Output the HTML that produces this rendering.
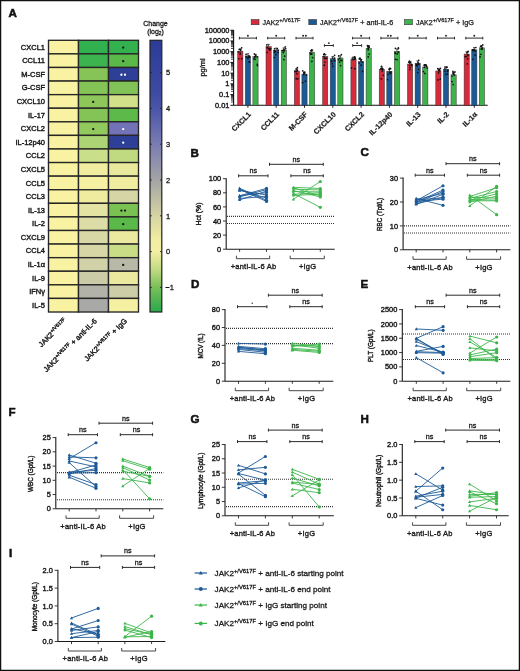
<!DOCTYPE html>
<html><head><meta charset="utf-8"><style>
html,body{margin:0;padding:0;background:#fff;width:520px;height:671px;overflow:hidden}
svg{display:block;will-change:transform}
text{font-family:"Liberation Sans",sans-serif}
</style></head><body>
<svg width="520" height="671" viewBox="0 0 520 671">
<rect x="0.6" y="0.6" width="518.8" height="669.8" fill="#fff" stroke="#111" stroke-width="1.3"/>
<text x="8.40" y="17.40" font-size="11.6" text-anchor="start" font-weight="bold" fill="#111" stroke="#111" stroke-width="0.55">A</text>
<text x="190.60" y="156.60" font-size="11.6" text-anchor="start" font-weight="bold" fill="#111" stroke="#111" stroke-width="0.55">B</text>
<text x="360.60" y="155.90" font-size="11.6" text-anchor="start" font-weight="bold" fill="#111" stroke="#111" stroke-width="0.55">C</text>
<text x="191.00" y="288.30" font-size="11.6" text-anchor="start" font-weight="bold" fill="#111" stroke="#111" stroke-width="0.55">D</text>
<text x="360.60" y="288.30" font-size="11.6" text-anchor="start" font-weight="bold" fill="#111" stroke="#111" stroke-width="0.55">E</text>
<text x="8.50" y="415.80" font-size="11.6" text-anchor="start" font-weight="bold" fill="#111" stroke="#111" stroke-width="0.55">F</text>
<text x="190.60" y="423.30" font-size="11.6" text-anchor="start" font-weight="bold" fill="#111" stroke="#111" stroke-width="0.55">G</text>
<text x="360.60" y="423.30" font-size="11.6" text-anchor="start" font-weight="bold" fill="#111" stroke="#111" stroke-width="0.55">H</text>
<text x="9.10" y="556.60" font-size="11.6" text-anchor="start" font-weight="bold" fill="#111" stroke="#111" stroke-width="0.55">I</text>
<rect x="48.50" y="40.30" width="30" height="13.585" fill="#f8f2a2" stroke="#262626" stroke-width="1.35"/>
<rect x="78.50" y="40.30" width="30" height="13.585" fill="#30b04f" stroke="#262626" stroke-width="1.35"/>
<rect x="108.50" y="40.30" width="30" height="13.585" fill="#34b14f" stroke="#262626" stroke-width="1.35"/>
<text x="45.00" y="49.69" font-size="7.5" text-anchor="end" font-weight="normal" fill="#1a1a1a" stroke="#1a1a1a" stroke-width="0.42">CXCL1</text>
<rect x="48.50" y="53.88" width="30" height="13.585" fill="#f8f2a2" stroke="#262626" stroke-width="1.35"/>
<rect x="78.50" y="53.88" width="30" height="13.585" fill="#3cb34e" stroke="#262626" stroke-width="1.35"/>
<rect x="108.50" y="53.88" width="30" height="13.585" fill="#5bb94a" stroke="#262626" stroke-width="1.35"/>
<text x="45.00" y="63.28" font-size="7.5" text-anchor="end" font-weight="normal" fill="#1a1a1a" stroke="#1a1a1a" stroke-width="0.42">CCL11</text>
<rect x="48.50" y="67.47" width="30" height="13.585" fill="#f8f2a2" stroke="#262626" stroke-width="1.35"/>
<rect x="78.50" y="67.47" width="30" height="13.585" fill="#86c457" stroke="#262626" stroke-width="1.35"/>
<rect x="108.50" y="67.47" width="30" height="13.585" fill="#2e3f97" stroke="#262626" stroke-width="1.35"/>
<text x="45.00" y="76.86" font-size="7.5" text-anchor="end" font-weight="normal" fill="#1a1a1a" stroke="#1a1a1a" stroke-width="0.42">M-CSF</text>
<rect x="48.50" y="81.06" width="30" height="13.585" fill="#f8f2a2" stroke="#262626" stroke-width="1.35"/>
<rect x="78.50" y="81.06" width="30" height="13.585" fill="#84c356" stroke="#262626" stroke-width="1.35"/>
<rect x="108.50" y="81.06" width="30" height="13.585" fill="#82c357" stroke="#262626" stroke-width="1.35"/>
<text x="45.00" y="90.45" font-size="7.5" text-anchor="end" font-weight="normal" fill="#1a1a1a" stroke="#1a1a1a" stroke-width="0.42">G-CSF</text>
<rect x="48.50" y="94.64" width="30" height="13.585" fill="#f8f2a2" stroke="#262626" stroke-width="1.35"/>
<rect x="78.50" y="94.64" width="30" height="13.585" fill="#8dc75a" stroke="#262626" stroke-width="1.35"/>
<rect x="108.50" y="94.64" width="30" height="13.585" fill="#d2e08a" stroke="#262626" stroke-width="1.35"/>
<text x="45.00" y="104.03" font-size="7.5" text-anchor="end" font-weight="normal" fill="#1a1a1a" stroke="#1a1a1a" stroke-width="0.42">CXCL10</text>
<rect x="48.50" y="108.23" width="30" height="13.585" fill="#f8f2a2" stroke="#262626" stroke-width="1.35"/>
<rect x="78.50" y="108.23" width="30" height="13.585" fill="#84c356" stroke="#262626" stroke-width="1.35"/>
<rect x="108.50" y="108.23" width="30" height="13.585" fill="#5cb94a" stroke="#262626" stroke-width="1.35"/>
<text x="45.00" y="117.62" font-size="7.5" text-anchor="end" font-weight="normal" fill="#1a1a1a" stroke="#1a1a1a" stroke-width="0.42">IL-17</text>
<rect x="48.50" y="121.81" width="30" height="13.585" fill="#f8f2a2" stroke="#262626" stroke-width="1.35"/>
<rect x="78.50" y="121.81" width="30" height="13.585" fill="#92c95c" stroke="#262626" stroke-width="1.35"/>
<rect x="108.50" y="121.81" width="30" height="13.585" fill="#7272b6" stroke="#262626" stroke-width="1.35"/>
<text x="45.00" y="131.20" font-size="7.5" text-anchor="end" font-weight="normal" fill="#1a1a1a" stroke="#1a1a1a" stroke-width="0.42">CXCL2</text>
<rect x="48.50" y="135.39" width="30" height="13.585" fill="#f8f2a2" stroke="#262626" stroke-width="1.35"/>
<rect x="78.50" y="135.39" width="30" height="13.585" fill="#acd474" stroke="#262626" stroke-width="1.35"/>
<rect x="108.50" y="135.39" width="30" height="13.585" fill="#2e3f97" stroke="#262626" stroke-width="1.35"/>
<text x="45.00" y="144.79" font-size="7.5" text-anchor="end" font-weight="normal" fill="#1a1a1a" stroke="#1a1a1a" stroke-width="0.42">IL-12p40</text>
<rect x="48.50" y="148.98" width="30" height="13.585" fill="#f8f2a2" stroke="#262626" stroke-width="1.35"/>
<rect x="78.50" y="148.98" width="30" height="13.585" fill="#cadf8a" stroke="#262626" stroke-width="1.35"/>
<rect x="108.50" y="148.98" width="30" height="13.585" fill="#c0da82" stroke="#262626" stroke-width="1.35"/>
<text x="45.00" y="158.37" font-size="7.5" text-anchor="end" font-weight="normal" fill="#1a1a1a" stroke="#1a1a1a" stroke-width="0.42">CCL2</text>
<rect x="48.50" y="162.56" width="30" height="13.585" fill="#f8f2a2" stroke="#262626" stroke-width="1.35"/>
<rect x="78.50" y="162.56" width="30" height="13.585" fill="#f1eda0" stroke="#262626" stroke-width="1.35"/>
<rect x="108.50" y="162.56" width="30" height="13.585" fill="#e8e99c" stroke="#262626" stroke-width="1.35"/>
<text x="45.00" y="171.96" font-size="7.5" text-anchor="end" font-weight="normal" fill="#1a1a1a" stroke="#1a1a1a" stroke-width="0.42">CXCL5</text>
<rect x="48.50" y="176.15" width="30" height="13.585" fill="#f8f2a2" stroke="#262626" stroke-width="1.35"/>
<rect x="78.50" y="176.15" width="30" height="13.585" fill="#f5f0a2" stroke="#262626" stroke-width="1.35"/>
<rect x="108.50" y="176.15" width="30" height="13.585" fill="#f0eda0" stroke="#262626" stroke-width="1.35"/>
<text x="45.00" y="185.54" font-size="7.5" text-anchor="end" font-weight="normal" fill="#1a1a1a" stroke="#1a1a1a" stroke-width="0.42">CCL5</text>
<rect x="48.50" y="189.74" width="30" height="13.585" fill="#f8f2a2" stroke="#262626" stroke-width="1.35"/>
<rect x="78.50" y="189.74" width="30" height="13.585" fill="#efeca0" stroke="#262626" stroke-width="1.35"/>
<rect x="108.50" y="189.74" width="30" height="13.585" fill="#d5d5a6" stroke="#262626" stroke-width="1.35"/>
<text x="45.00" y="199.13" font-size="7.5" text-anchor="end" font-weight="normal" fill="#1a1a1a" stroke="#1a1a1a" stroke-width="0.42">CCL3</text>
<rect x="48.50" y="203.32" width="30" height="13.585" fill="#f8f2a2" stroke="#262626" stroke-width="1.35"/>
<rect x="78.50" y="203.32" width="30" height="13.585" fill="#e3e3a4" stroke="#262626" stroke-width="1.35"/>
<rect x="108.50" y="203.32" width="30" height="13.585" fill="#79c152" stroke="#262626" stroke-width="1.35"/>
<text x="45.00" y="212.71" font-size="7.5" text-anchor="end" font-weight="normal" fill="#1a1a1a" stroke="#1a1a1a" stroke-width="0.42">IL-13</text>
<rect x="48.50" y="216.91" width="30" height="13.585" fill="#f8f2a2" stroke="#262626" stroke-width="1.35"/>
<rect x="78.50" y="216.91" width="30" height="13.585" fill="#dcdca6" stroke="#262626" stroke-width="1.35"/>
<rect x="108.50" y="216.91" width="30" height="13.585" fill="#5bb94a" stroke="#262626" stroke-width="1.35"/>
<text x="45.00" y="226.30" font-size="7.5" text-anchor="end" font-weight="normal" fill="#1a1a1a" stroke="#1a1a1a" stroke-width="0.42">IL-2</text>
<rect x="48.50" y="230.49" width="30" height="13.585" fill="#f8f2a2" stroke="#262626" stroke-width="1.35"/>
<rect x="78.50" y="230.49" width="30" height="13.585" fill="#d8d8a6" stroke="#262626" stroke-width="1.35"/>
<rect x="108.50" y="230.49" width="30" height="13.585" fill="#ebe9a0" stroke="#262626" stroke-width="1.35"/>
<text x="45.00" y="239.88" font-size="7.5" text-anchor="end" font-weight="normal" fill="#1a1a1a" stroke="#1a1a1a" stroke-width="0.42">CXCL9</text>
<rect x="48.50" y="244.07" width="30" height="13.585" fill="#f8f2a2" stroke="#262626" stroke-width="1.35"/>
<rect x="78.50" y="244.07" width="30" height="13.585" fill="#d6d6a6" stroke="#262626" stroke-width="1.35"/>
<rect x="108.50" y="244.07" width="30" height="13.585" fill="#c8dd85" stroke="#262626" stroke-width="1.35"/>
<text x="45.00" y="253.47" font-size="7.5" text-anchor="end" font-weight="normal" fill="#1a1a1a" stroke="#1a1a1a" stroke-width="0.42">CCL4</text>
<rect x="48.50" y="257.66" width="30" height="13.585" fill="#f8f2a2" stroke="#262626" stroke-width="1.35"/>
<rect x="78.50" y="257.66" width="30" height="13.585" fill="#d2d2a8" stroke="#262626" stroke-width="1.35"/>
<rect x="108.50" y="257.66" width="30" height="13.585" fill="#b9b9a8" stroke="#262626" stroke-width="1.35"/>
<text x="45.00" y="267.05" font-size="7.5" text-anchor="end" font-weight="normal" fill="#1a1a1a" stroke="#1a1a1a" stroke-width="0.42">IL-1&#945;</text>
<rect x="48.50" y="271.25" width="30" height="13.585" fill="#f8f2a2" stroke="#262626" stroke-width="1.35"/>
<rect x="78.50" y="271.25" width="30" height="13.585" fill="#cbcba8" stroke="#262626" stroke-width="1.35"/>
<rect x="108.50" y="271.25" width="30" height="13.585" fill="#ebe9a0" stroke="#262626" stroke-width="1.35"/>
<text x="45.00" y="280.64" font-size="7.5" text-anchor="end" font-weight="normal" fill="#1a1a1a" stroke="#1a1a1a" stroke-width="0.42">IL-9</text>
<rect x="48.50" y="284.83" width="30" height="13.585" fill="#f8f2a2" stroke="#262626" stroke-width="1.35"/>
<rect x="78.50" y="284.83" width="30" height="13.585" fill="#b2b2a8" stroke="#262626" stroke-width="1.35"/>
<rect x="108.50" y="284.83" width="30" height="13.585" fill="#cdcda8" stroke="#262626" stroke-width="1.35"/>
<text x="45.00" y="294.22" font-size="7.5" text-anchor="end" font-weight="normal" fill="#1a1a1a" stroke="#1a1a1a" stroke-width="0.42">IFN&#947;</text>
<rect x="48.50" y="298.42" width="30" height="13.585" fill="#f8f2a2" stroke="#262626" stroke-width="1.35"/>
<rect x="78.50" y="298.42" width="30" height="13.585" fill="#a9a9a7" stroke="#262626" stroke-width="1.35"/>
<rect x="108.50" y="298.42" width="30" height="13.585" fill="#f5f0a2" stroke="#262626" stroke-width="1.35"/>
<text x="45.00" y="307.81" font-size="7.5" text-anchor="end" font-weight="normal" fill="#1a1a1a" stroke="#1a1a1a" stroke-width="0.42">IL-5</text>
<circle cx="123.20" cy="47.59" r="1.15" fill="#111"/>
<circle cx="123.20" cy="61.18" r="1.15" fill="#111"/>
<circle cx="121.40" cy="74.76" r="1.15" fill="#fff"/>
<circle cx="125.00" cy="74.76" r="1.15" fill="#fff"/>
<circle cx="93.20" cy="101.93" r="1.15" fill="#111"/>
<circle cx="93.20" cy="129.10" r="1.15" fill="#111"/>
<circle cx="123.20" cy="129.10" r="1.15" fill="#fff"/>
<circle cx="123.20" cy="142.69" r="1.15" fill="#fff"/>
<circle cx="121.40" cy="210.61" r="1.15" fill="#111"/>
<circle cx="125.00" cy="210.61" r="1.15" fill="#111"/>
<circle cx="123.20" cy="224.20" r="1.15" fill="#111"/>
<circle cx="123.20" cy="264.95" r="1.15" fill="#111"/>
<text transform="translate(67.50,321.50) rotate(-45)" font-size="7.4" text-anchor="end" font-weight="normal" fill="#1a1a1a" stroke="#1a1a1a" stroke-width="0.4">JAK2<tspan font-size="5" dy="-2.8">+/V617F</tspan></text>
<text transform="translate(97.50,321.50) rotate(-45)" font-size="7.4" text-anchor="end" font-weight="normal" fill="#1a1a1a" stroke="#1a1a1a" stroke-width="0.4">JAK2<tspan font-size="5" dy="-2.8">+/V617F</tspan><tspan dy="2.8"> + anti-IL-6</tspan></text>
<text transform="translate(127.50,321.50) rotate(-45)" font-size="7.4" text-anchor="end" font-weight="normal" fill="#1a1a1a" stroke="#1a1a1a" stroke-width="0.4">JAK2<tspan font-size="5" dy="-2.8">+/V617F</tspan><tspan dy="2.8"> + IgG</tspan></text>
<defs><linearGradient id="cb" x1="0" y1="0" x2="0" y2="1">
<stop offset="0.0000" stop-color="#2b3b96"/>
<stop offset="0.1848" stop-color="#3d4aa2"/>
<stop offset="0.2506" stop-color="#4a55a8"/>
<stop offset="0.3824" stop-color="#7a7cb2"/>
<stop offset="0.5142" stop-color="#a4a4a6"/>
<stop offset="0.6459" stop-color="#d6d4a4"/>
<stop offset="0.7382" stop-color="#f2eea2"/>
<stop offset="0.7777" stop-color="#f4efa2"/>
<stop offset="0.8436" stop-color="#c2da84"/>
<stop offset="0.9095" stop-color="#78c058"/>
<stop offset="1.0000" stop-color="#2aa84c"/>
</linearGradient></defs>
<rect x="150" y="40.3" width="11.8" height="271.7" fill="url(#cb)" stroke="#222" stroke-width="1.2"/>
<line x1="150.00" y1="72.60" x2="151.80" y2="72.60" stroke="#222" stroke-width="0.9" />
<line x1="160.00" y1="72.60" x2="161.80" y2="72.60" stroke="#222" stroke-width="0.9" />
<text x="166.00" y="75.30" font-size="7.5" text-anchor="start" font-weight="normal" fill="#1a1a1a" stroke="#1a1a1a" stroke-width="0.3">5</text>
<line x1="150.00" y1="108.40" x2="151.80" y2="108.40" stroke="#222" stroke-width="0.9" />
<line x1="160.00" y1="108.40" x2="161.80" y2="108.40" stroke="#222" stroke-width="0.9" />
<text x="166.00" y="111.10" font-size="7.5" text-anchor="start" font-weight="normal" fill="#1a1a1a" stroke="#1a1a1a" stroke-width="0.3">4</text>
<line x1="150.00" y1="144.20" x2="151.80" y2="144.20" stroke="#222" stroke-width="0.9" />
<line x1="160.00" y1="144.20" x2="161.80" y2="144.20" stroke="#222" stroke-width="0.9" />
<text x="166.00" y="146.90" font-size="7.5" text-anchor="start" font-weight="normal" fill="#1a1a1a" stroke="#1a1a1a" stroke-width="0.3">3</text>
<line x1="150.00" y1="180.00" x2="151.80" y2="180.00" stroke="#222" stroke-width="0.9" />
<line x1="160.00" y1="180.00" x2="161.80" y2="180.00" stroke="#222" stroke-width="0.9" />
<text x="166.00" y="182.70" font-size="7.5" text-anchor="start" font-weight="normal" fill="#1a1a1a" stroke="#1a1a1a" stroke-width="0.3">2</text>
<line x1="150.00" y1="215.80" x2="151.80" y2="215.80" stroke="#222" stroke-width="0.9" />
<line x1="160.00" y1="215.80" x2="161.80" y2="215.80" stroke="#222" stroke-width="0.9" />
<text x="166.00" y="218.50" font-size="7.5" text-anchor="start" font-weight="normal" fill="#1a1a1a" stroke="#1a1a1a" stroke-width="0.3">1</text>
<line x1="150.00" y1="251.60" x2="151.80" y2="251.60" stroke="#222" stroke-width="0.9" />
<line x1="160.00" y1="251.60" x2="161.80" y2="251.60" stroke="#222" stroke-width="0.9" />
<text x="166.00" y="254.30" font-size="7.5" text-anchor="start" font-weight="normal" fill="#1a1a1a" stroke="#1a1a1a" stroke-width="0.3">0</text>
<line x1="150.00" y1="287.40" x2="151.80" y2="287.40" stroke="#222" stroke-width="0.9" />
<line x1="160.00" y1="287.40" x2="161.80" y2="287.40" stroke="#222" stroke-width="0.9" />
<text x="165.30" y="290.10" font-size="7.5" text-anchor="start" font-weight="normal" fill="#1a1a1a" stroke="#1a1a1a" stroke-width="0.3">&#8722;1</text>
<text x="155.50" y="26.20" font-size="7" text-anchor="middle" font-weight="normal" fill="#1a1a1a" stroke="#1a1a1a" stroke-width="0.3">Change</text>
<text x="155.5" y="33.6" font-size="7" text-anchor="middle" fill="#1a1a1a" stroke="#1a1a1a" stroke-width="0.3">(log<tspan font-size="4.8" dy="1.8">2</tspan><tspan dy="-1.8">)</tspan></text>
<rect x="251.2" y="19.6" width="7.8" height="5.1" fill="#d52b3d" stroke="#333" stroke-width="0.6"/>
<text x="262.5" y="24.9" font-size="7.0" fill="#1a1a1a" stroke="#1a1a1a" stroke-width="0.25">JAK2<tspan font-size="5.6" dy="-3.0">+/V617F</tspan><tspan dy="3.0" font-size="7.3"></tspan></text>
<rect x="308.8" y="19.6" width="7.8" height="5.1" fill="#1c5a96" stroke="#333" stroke-width="0.6"/>
<text x="320.1" y="24.9" font-size="7.0" fill="#1a1a1a" stroke="#1a1a1a" stroke-width="0.25">JAK2<tspan font-size="5.6" dy="-3.0">+/V617F</tspan><tspan dy="3.0" font-size="7.3"> + anti-IL-6</tspan></text>
<rect x="404.6" y="19.6" width="7.8" height="5.1" fill="#3cb44a" stroke="#333" stroke-width="0.6"/>
<text x="415.90000000000003" y="24.9" font-size="7.0" fill="#1a1a1a" stroke="#1a1a1a" stroke-width="0.25">JAK2<tspan font-size="5.6" dy="-3.0">+/V617F</tspan><tspan dy="3.0" font-size="7.3"> + IgG</tspan></text>
<line x1="233.60" y1="29.96" x2="233.60" y2="105.30" stroke="#111" stroke-width="1.1" />
<line x1="233.60" y1="105.30" x2="487.70" y2="105.30" stroke="#111" stroke-width="1.1" />
<line x1="230.40" y1="105.30" x2="233.60" y2="105.30" stroke="#111" stroke-width="1.0" />
<text x="229.40" y="107.80" font-size="7.4" text-anchor="end" font-weight="normal" fill="#1a1a1a" stroke="#1a1a1a" stroke-width="0.4">0.01</text>
<line x1="231.00" y1="102.07" x2="233.60" y2="102.07" stroke="#111" stroke-width="0.75" />
<line x1="231.00" y1="100.19" x2="233.60" y2="100.19" stroke="#111" stroke-width="0.75" />
<line x1="231.00" y1="98.85" x2="233.60" y2="98.85" stroke="#111" stroke-width="0.75" />
<line x1="231.00" y1="97.81" x2="233.60" y2="97.81" stroke="#111" stroke-width="0.75" />
<line x1="231.00" y1="96.96" x2="233.60" y2="96.96" stroke="#111" stroke-width="0.75" />
<line x1="231.00" y1="96.24" x2="233.60" y2="96.24" stroke="#111" stroke-width="0.75" />
<line x1="231.00" y1="95.62" x2="233.60" y2="95.62" stroke="#111" stroke-width="0.75" />
<line x1="231.00" y1="95.07" x2="233.60" y2="95.07" stroke="#111" stroke-width="0.75" />
<line x1="230.40" y1="94.58" x2="233.60" y2="94.58" stroke="#111" stroke-width="1.0" />
<text x="229.40" y="97.08" font-size="7.4" text-anchor="end" font-weight="normal" fill="#1a1a1a" stroke="#1a1a1a" stroke-width="0.4">0.1</text>
<line x1="231.00" y1="91.35" x2="233.60" y2="91.35" stroke="#111" stroke-width="0.75" />
<line x1="231.00" y1="89.47" x2="233.60" y2="89.47" stroke="#111" stroke-width="0.75" />
<line x1="231.00" y1="88.13" x2="233.60" y2="88.13" stroke="#111" stroke-width="0.75" />
<line x1="231.00" y1="87.09" x2="233.60" y2="87.09" stroke="#111" stroke-width="0.75" />
<line x1="231.00" y1="86.24" x2="233.60" y2="86.24" stroke="#111" stroke-width="0.75" />
<line x1="231.00" y1="85.52" x2="233.60" y2="85.52" stroke="#111" stroke-width="0.75" />
<line x1="231.00" y1="84.90" x2="233.60" y2="84.90" stroke="#111" stroke-width="0.75" />
<line x1="231.00" y1="84.35" x2="233.60" y2="84.35" stroke="#111" stroke-width="0.75" />
<line x1="230.40" y1="83.86" x2="233.60" y2="83.86" stroke="#111" stroke-width="1.0" />
<text x="229.40" y="86.36" font-size="7.4" text-anchor="end" font-weight="normal" fill="#1a1a1a" stroke="#1a1a1a" stroke-width="0.4">1</text>
<line x1="231.00" y1="80.63" x2="233.60" y2="80.63" stroke="#111" stroke-width="0.75" />
<line x1="231.00" y1="78.75" x2="233.60" y2="78.75" stroke="#111" stroke-width="0.75" />
<line x1="231.00" y1="77.41" x2="233.60" y2="77.41" stroke="#111" stroke-width="0.75" />
<line x1="231.00" y1="76.37" x2="233.60" y2="76.37" stroke="#111" stroke-width="0.75" />
<line x1="231.00" y1="75.52" x2="233.60" y2="75.52" stroke="#111" stroke-width="0.75" />
<line x1="231.00" y1="74.80" x2="233.60" y2="74.80" stroke="#111" stroke-width="0.75" />
<line x1="231.00" y1="74.18" x2="233.60" y2="74.18" stroke="#111" stroke-width="0.75" />
<line x1="231.00" y1="73.63" x2="233.60" y2="73.63" stroke="#111" stroke-width="0.75" />
<line x1="230.40" y1="73.14" x2="233.60" y2="73.14" stroke="#111" stroke-width="1.0" />
<text x="229.40" y="75.64" font-size="7.4" text-anchor="end" font-weight="normal" fill="#1a1a1a" stroke="#1a1a1a" stroke-width="0.4">10</text>
<line x1="231.00" y1="69.91" x2="233.60" y2="69.91" stroke="#111" stroke-width="0.75" />
<line x1="231.00" y1="68.03" x2="233.60" y2="68.03" stroke="#111" stroke-width="0.75" />
<line x1="231.00" y1="66.69" x2="233.60" y2="66.69" stroke="#111" stroke-width="0.75" />
<line x1="231.00" y1="65.65" x2="233.60" y2="65.65" stroke="#111" stroke-width="0.75" />
<line x1="231.00" y1="64.80" x2="233.60" y2="64.80" stroke="#111" stroke-width="0.75" />
<line x1="231.00" y1="64.08" x2="233.60" y2="64.08" stroke="#111" stroke-width="0.75" />
<line x1="231.00" y1="63.46" x2="233.60" y2="63.46" stroke="#111" stroke-width="0.75" />
<line x1="231.00" y1="62.91" x2="233.60" y2="62.91" stroke="#111" stroke-width="0.75" />
<line x1="230.40" y1="62.42" x2="233.60" y2="62.42" stroke="#111" stroke-width="1.0" />
<text x="229.40" y="64.92" font-size="7.4" text-anchor="end" font-weight="normal" fill="#1a1a1a" stroke="#1a1a1a" stroke-width="0.4">100</text>
<line x1="231.00" y1="59.19" x2="233.60" y2="59.19" stroke="#111" stroke-width="0.75" />
<line x1="231.00" y1="57.31" x2="233.60" y2="57.31" stroke="#111" stroke-width="0.75" />
<line x1="231.00" y1="55.97" x2="233.60" y2="55.97" stroke="#111" stroke-width="0.75" />
<line x1="231.00" y1="54.93" x2="233.60" y2="54.93" stroke="#111" stroke-width="0.75" />
<line x1="231.00" y1="54.08" x2="233.60" y2="54.08" stroke="#111" stroke-width="0.75" />
<line x1="231.00" y1="53.36" x2="233.60" y2="53.36" stroke="#111" stroke-width="0.75" />
<line x1="231.00" y1="52.74" x2="233.60" y2="52.74" stroke="#111" stroke-width="0.75" />
<line x1="231.00" y1="52.19" x2="233.60" y2="52.19" stroke="#111" stroke-width="0.75" />
<line x1="230.40" y1="51.70" x2="233.60" y2="51.70" stroke="#111" stroke-width="1.0" />
<text x="229.40" y="54.20" font-size="7.4" text-anchor="end" font-weight="normal" fill="#1a1a1a" stroke="#1a1a1a" stroke-width="0.4">1000</text>
<line x1="231.00" y1="48.47" x2="233.60" y2="48.47" stroke="#111" stroke-width="0.75" />
<line x1="231.00" y1="46.59" x2="233.60" y2="46.59" stroke="#111" stroke-width="0.75" />
<line x1="231.00" y1="45.25" x2="233.60" y2="45.25" stroke="#111" stroke-width="0.75" />
<line x1="231.00" y1="44.21" x2="233.60" y2="44.21" stroke="#111" stroke-width="0.75" />
<line x1="231.00" y1="43.36" x2="233.60" y2="43.36" stroke="#111" stroke-width="0.75" />
<line x1="231.00" y1="42.64" x2="233.60" y2="42.64" stroke="#111" stroke-width="0.75" />
<line x1="231.00" y1="42.02" x2="233.60" y2="42.02" stroke="#111" stroke-width="0.75" />
<line x1="231.00" y1="41.47" x2="233.60" y2="41.47" stroke="#111" stroke-width="0.75" />
<line x1="230.40" y1="40.98" x2="233.60" y2="40.98" stroke="#111" stroke-width="1.0" />
<text x="229.40" y="43.48" font-size="7.4" text-anchor="end" font-weight="normal" fill="#1a1a1a" stroke="#1a1a1a" stroke-width="0.4">10000</text>
<line x1="231.00" y1="37.75" x2="233.60" y2="37.75" stroke="#111" stroke-width="0.75" />
<line x1="231.00" y1="35.87" x2="233.60" y2="35.87" stroke="#111" stroke-width="0.75" />
<line x1="231.00" y1="34.53" x2="233.60" y2="34.53" stroke="#111" stroke-width="0.75" />
<line x1="231.00" y1="33.49" x2="233.60" y2="33.49" stroke="#111" stroke-width="0.75" />
<line x1="231.00" y1="32.64" x2="233.60" y2="32.64" stroke="#111" stroke-width="0.75" />
<line x1="231.00" y1="31.92" x2="233.60" y2="31.92" stroke="#111" stroke-width="0.75" />
<line x1="231.00" y1="31.30" x2="233.60" y2="31.30" stroke="#111" stroke-width="0.75" />
<line x1="231.00" y1="30.75" x2="233.60" y2="30.75" stroke="#111" stroke-width="0.75" />
<line x1="230.40" y1="30.26" x2="233.60" y2="30.26" stroke="#111" stroke-width="1.0" />
<text x="229.40" y="32.76" font-size="7.4" text-anchor="end" font-weight="normal" fill="#1a1a1a" stroke="#1a1a1a" stroke-width="0.4">100000</text>
<text transform="translate(205,67.5) rotate(-90)" font-size="7.4" text-anchor="middle" fill="#1a1a1a" stroke="#1a1a1a" stroke-width="0.3">pg/ml</text>
<rect x="237.70" y="51.26" width="5.2" height="54.04" fill="#d52b3d" stroke="#333" stroke-width="0.5"/>
<line x1="240.30" y1="49.06" x2="240.30" y2="51.26" stroke="#111" stroke-width="0.7" />
<line x1="239.00" y1="49.06" x2="241.60" y2="49.06" stroke="#111" stroke-width="0.7" />
<circle cx="240.48" cy="49.30" r="0.85" fill="#111"/>
<circle cx="240.72" cy="50.16" r="0.85" fill="#111"/>
<circle cx="238.56" cy="51.82" r="0.85" fill="#111"/>
<circle cx="241.65" cy="47.84" r="0.85" fill="#111"/>
<circle cx="239.24" cy="49.44" r="0.85" fill="#111"/>
<circle cx="240.18" cy="54.23" r="0.85" fill="#111"/>
<circle cx="240.21" cy="53.19" r="0.85" fill="#111"/>
<circle cx="238.90" cy="58.73" r="0.85" fill="#111"/>
<circle cx="241.77" cy="58.70" r="0.85" fill="#111"/>
<rect x="245.30" y="55.97" width="5.2" height="49.33" fill="#1c5a96" stroke="#333" stroke-width="0.5"/>
<line x1="247.90" y1="53.77" x2="247.90" y2="55.97" stroke="#111" stroke-width="0.7" />
<line x1="246.60" y1="53.77" x2="249.20" y2="53.77" stroke="#111" stroke-width="0.7" />
<circle cx="248.87" cy="55.87" r="0.85" fill="#111"/>
<circle cx="246.16" cy="56.83" r="0.85" fill="#111"/>
<circle cx="248.26" cy="57.39" r="0.85" fill="#111"/>
<circle cx="246.02" cy="54.42" r="0.85" fill="#111"/>
<circle cx="247.79" cy="58.09" r="0.85" fill="#111"/>
<circle cx="249.42" cy="57.14" r="0.85" fill="#111"/>
<circle cx="249.58" cy="57.11" r="0.85" fill="#111"/>
<circle cx="249.10" cy="61.73" r="0.85" fill="#111"/>
<circle cx="249.64" cy="62.08" r="0.85" fill="#111"/>
<rect x="252.90" y="56.59" width="5.2" height="48.71" fill="#3cb44a" stroke="#333" stroke-width="0.5"/>
<line x1="255.50" y1="54.39" x2="255.50" y2="56.59" stroke="#111" stroke-width="0.7" />
<line x1="254.20" y1="54.39" x2="256.80" y2="54.39" stroke="#111" stroke-width="0.7" />
<circle cx="253.89" cy="58.80" r="0.85" fill="#111"/>
<circle cx="254.37" cy="53.97" r="0.85" fill="#111"/>
<circle cx="255.24" cy="59.36" r="0.85" fill="#111"/>
<circle cx="254.70" cy="57.16" r="0.85" fill="#111"/>
<circle cx="255.04" cy="56.38" r="0.85" fill="#111"/>
<circle cx="255.84" cy="55.37" r="0.85" fill="#111"/>
<circle cx="257.12" cy="56.89" r="0.85" fill="#111"/>
<circle cx="257.22" cy="64.36" r="0.85" fill="#111"/>
<circle cx="257.46" cy="65.58" r="0.85" fill="#111"/>
<line x1="247.90" y1="105.30" x2="247.90" y2="107.80" stroke="#111" stroke-width="0.9" />
<text transform="translate(251.40,114.90) rotate(-45)" font-size="7.3" text-anchor="end" font-weight="bold" fill="#1a1a1a" stroke="#1a1a1a" stroke-width="0.2">CXCL1</text>
<rect x="266.00" y="46.59" width="5.2" height="58.71" fill="#d52b3d" stroke="#333" stroke-width="0.5"/>
<line x1="268.60" y1="44.39" x2="268.60" y2="46.59" stroke="#111" stroke-width="0.7" />
<line x1="267.30" y1="44.39" x2="269.90" y2="44.39" stroke="#111" stroke-width="0.7" />
<circle cx="267.25" cy="47.45" r="0.85" fill="#111"/>
<circle cx="270.46" cy="48.68" r="0.85" fill="#111"/>
<circle cx="268.88" cy="48.97" r="0.85" fill="#111"/>
<circle cx="267.44" cy="47.73" r="0.85" fill="#111"/>
<circle cx="268.89" cy="48.49" r="0.85" fill="#111"/>
<circle cx="266.85" cy="44.94" r="0.85" fill="#111"/>
<circle cx="270.56" cy="48.64" r="0.85" fill="#111"/>
<circle cx="269.80" cy="50.20" r="0.85" fill="#111"/>
<circle cx="267.20" cy="52.46" r="0.85" fill="#111"/>
<rect x="273.60" y="50.30" width="5.2" height="55.00" fill="#1c5a96" stroke="#333" stroke-width="0.5"/>
<line x1="276.20" y1="48.10" x2="276.20" y2="50.30" stroke="#111" stroke-width="0.7" />
<line x1="274.90" y1="48.10" x2="277.50" y2="48.10" stroke="#111" stroke-width="0.7" />
<circle cx="277.28" cy="48.71" r="0.85" fill="#111"/>
<circle cx="274.38" cy="52.48" r="0.85" fill="#111"/>
<circle cx="274.38" cy="50.80" r="0.85" fill="#111"/>
<circle cx="275.52" cy="51.47" r="0.85" fill="#111"/>
<circle cx="278.12" cy="52.53" r="0.85" fill="#111"/>
<circle cx="278.19" cy="50.09" r="0.85" fill="#111"/>
<circle cx="274.51" cy="48.82" r="0.85" fill="#111"/>
<circle cx="274.33" cy="57.50" r="0.85" fill="#111"/>
<circle cx="275.83" cy="54.68" r="0.85" fill="#111"/>
<rect x="281.20" y="50.13" width="5.2" height="55.17" fill="#3cb44a" stroke="#333" stroke-width="0.5"/>
<line x1="283.80" y1="47.93" x2="283.80" y2="50.13" stroke="#111" stroke-width="0.7" />
<line x1="282.50" y1="47.93" x2="285.10" y2="47.93" stroke="#111" stroke-width="0.7" />
<circle cx="282.42" cy="50.60" r="0.85" fill="#111"/>
<circle cx="285.27" cy="46.91" r="0.85" fill="#111"/>
<circle cx="285.63" cy="48.67" r="0.85" fill="#111"/>
<circle cx="283.31" cy="52.46" r="0.85" fill="#111"/>
<circle cx="283.88" cy="49.63" r="0.85" fill="#111"/>
<circle cx="284.18" cy="50.82" r="0.85" fill="#111"/>
<circle cx="284.28" cy="50.27" r="0.85" fill="#111"/>
<circle cx="283.83" cy="59.72" r="0.85" fill="#111"/>
<circle cx="284.68" cy="56.15" r="0.85" fill="#111"/>
<line x1="276.20" y1="105.30" x2="276.20" y2="107.80" stroke="#111" stroke-width="0.9" />
<text transform="translate(279.70,114.90) rotate(-45)" font-size="7.3" text-anchor="end" font-weight="bold" fill="#1a1a1a" stroke="#1a1a1a" stroke-width="0.2">CCL11</text>
<rect x="294.30" y="70.95" width="5.2" height="34.35" fill="#d52b3d" stroke="#333" stroke-width="0.5"/>
<line x1="296.90" y1="68.75" x2="296.90" y2="70.95" stroke="#111" stroke-width="0.7" />
<line x1="295.60" y1="68.75" x2="298.20" y2="68.75" stroke="#111" stroke-width="0.7" />
<circle cx="296.10" cy="69.00" r="0.85" fill="#111"/>
<circle cx="296.98" cy="73.81" r="0.85" fill="#111"/>
<circle cx="294.95" cy="71.02" r="0.85" fill="#111"/>
<circle cx="297.22" cy="70.15" r="0.85" fill="#111"/>
<circle cx="297.36" cy="67.58" r="0.85" fill="#111"/>
<circle cx="295.14" cy="71.56" r="0.85" fill="#111"/>
<circle cx="296.77" cy="71.53" r="0.85" fill="#111"/>
<circle cx="296.31" cy="78.71" r="0.85" fill="#111"/>
<circle cx="297.85" cy="78.90" r="0.85" fill="#111"/>
<rect x="301.90" y="74.18" width="5.2" height="31.12" fill="#1c5a96" stroke="#333" stroke-width="0.5"/>
<line x1="304.50" y1="71.98" x2="304.50" y2="74.18" stroke="#111" stroke-width="0.7" />
<line x1="303.20" y1="71.98" x2="305.80" y2="71.98" stroke="#111" stroke-width="0.7" />
<circle cx="302.74" cy="70.82" r="0.85" fill="#111"/>
<circle cx="306.35" cy="75.07" r="0.85" fill="#111"/>
<circle cx="304.33" cy="72.31" r="0.85" fill="#111"/>
<circle cx="303.78" cy="74.53" r="0.85" fill="#111"/>
<circle cx="303.75" cy="73.04" r="0.85" fill="#111"/>
<circle cx="304.88" cy="73.08" r="0.85" fill="#111"/>
<circle cx="304.01" cy="72.63" r="0.85" fill="#111"/>
<circle cx="302.61" cy="82.58" r="0.85" fill="#111"/>
<circle cx="305.44" cy="81.16" r="0.85" fill="#111"/>
<rect x="309.50" y="52.19" width="5.2" height="53.11" fill="#3cb44a" stroke="#333" stroke-width="0.5"/>
<line x1="312.10" y1="49.99" x2="312.10" y2="52.19" stroke="#111" stroke-width="0.7" />
<line x1="310.80" y1="49.99" x2="313.40" y2="49.99" stroke="#111" stroke-width="0.7" />
<circle cx="310.99" cy="50.71" r="0.85" fill="#111"/>
<circle cx="311.05" cy="53.92" r="0.85" fill="#111"/>
<circle cx="311.84" cy="49.91" r="0.85" fill="#111"/>
<circle cx="310.51" cy="53.23" r="0.85" fill="#111"/>
<circle cx="311.44" cy="50.78" r="0.85" fill="#111"/>
<circle cx="311.85" cy="54.11" r="0.85" fill="#111"/>
<circle cx="310.78" cy="54.25" r="0.85" fill="#111"/>
<circle cx="312.70" cy="57.55" r="0.85" fill="#111"/>
<circle cx="311.90" cy="61.38" r="0.85" fill="#111"/>
<line x1="304.50" y1="105.30" x2="304.50" y2="107.80" stroke="#111" stroke-width="0.9" />
<text transform="translate(308.00,114.90) rotate(-45)" font-size="7.3" text-anchor="end" font-weight="bold" fill="#1a1a1a" stroke="#1a1a1a" stroke-width="0.2">M-CSF</text>
<rect x="322.60" y="56.59" width="5.2" height="48.71" fill="#d52b3d" stroke="#333" stroke-width="0.5"/>
<line x1="325.20" y1="54.39" x2="325.20" y2="56.59" stroke="#111" stroke-width="0.7" />
<line x1="323.90" y1="54.39" x2="326.50" y2="54.39" stroke="#111" stroke-width="0.7" />
<circle cx="323.68" cy="54.55" r="0.85" fill="#111"/>
<circle cx="323.96" cy="56.53" r="0.85" fill="#111"/>
<circle cx="326.55" cy="58.33" r="0.85" fill="#111"/>
<circle cx="324.31" cy="54.28" r="0.85" fill="#111"/>
<circle cx="325.77" cy="58.33" r="0.85" fill="#111"/>
<circle cx="324.58" cy="58.33" r="0.85" fill="#111"/>
<circle cx="324.37" cy="53.93" r="0.85" fill="#111"/>
<circle cx="324.28" cy="65.14" r="0.85" fill="#111"/>
<circle cx="324.87" cy="62.01" r="0.85" fill="#111"/>
<rect x="330.20" y="58.75" width="5.2" height="46.55" fill="#1c5a96" stroke="#333" stroke-width="0.5"/>
<line x1="332.80" y1="56.55" x2="332.80" y2="58.75" stroke="#111" stroke-width="0.7" />
<line x1="331.50" y1="56.55" x2="334.10" y2="56.55" stroke="#111" stroke-width="0.7" />
<circle cx="332.44" cy="57.98" r="0.85" fill="#111"/>
<circle cx="331.42" cy="61.23" r="0.85" fill="#111"/>
<circle cx="334.57" cy="55.28" r="0.85" fill="#111"/>
<circle cx="334.75" cy="60.97" r="0.85" fill="#111"/>
<circle cx="334.60" cy="58.07" r="0.85" fill="#111"/>
<circle cx="331.69" cy="61.28" r="0.85" fill="#111"/>
<circle cx="334.15" cy="60.10" r="0.85" fill="#111"/>
<circle cx="332.88" cy="66.39" r="0.85" fill="#111"/>
<circle cx="332.16" cy="63.77" r="0.85" fill="#111"/>
<rect x="337.80" y="57.97" width="5.2" height="47.33" fill="#3cb44a" stroke="#333" stroke-width="0.5"/>
<line x1="340.40" y1="55.77" x2="340.40" y2="57.97" stroke="#111" stroke-width="0.7" />
<line x1="339.10" y1="55.77" x2="341.70" y2="55.77" stroke="#111" stroke-width="0.7" />
<circle cx="338.67" cy="55.95" r="0.85" fill="#111"/>
<circle cx="339.55" cy="58.30" r="0.85" fill="#111"/>
<circle cx="338.58" cy="59.74" r="0.85" fill="#111"/>
<circle cx="341.17" cy="60.34" r="0.85" fill="#111"/>
<circle cx="341.99" cy="60.48" r="0.85" fill="#111"/>
<circle cx="340.71" cy="60.32" r="0.85" fill="#111"/>
<circle cx="341.38" cy="54.56" r="0.85" fill="#111"/>
<circle cx="339.60" cy="62.17" r="0.85" fill="#111"/>
<circle cx="340.50" cy="65.61" r="0.85" fill="#111"/>
<line x1="332.80" y1="105.30" x2="332.80" y2="107.80" stroke="#111" stroke-width="0.9" />
<text transform="translate(336.30,114.90) rotate(-45)" font-size="7.3" text-anchor="end" font-weight="bold" fill="#1a1a1a" stroke="#1a1a1a" stroke-width="0.2">CXCL10</text>
<rect x="350.90" y="59.19" width="5.2" height="46.11" fill="#d52b3d" stroke="#333" stroke-width="0.5"/>
<line x1="353.50" y1="56.99" x2="353.50" y2="59.19" stroke="#111" stroke-width="0.7" />
<line x1="352.20" y1="56.99" x2="354.80" y2="56.99" stroke="#111" stroke-width="0.7" />
<circle cx="355.26" cy="58.38" r="0.85" fill="#111"/>
<circle cx="352.87" cy="59.67" r="0.85" fill="#111"/>
<circle cx="354.95" cy="57.33" r="0.85" fill="#111"/>
<circle cx="354.63" cy="58.79" r="0.85" fill="#111"/>
<circle cx="352.29" cy="57.98" r="0.85" fill="#111"/>
<circle cx="354.77" cy="59.17" r="0.85" fill="#111"/>
<circle cx="354.67" cy="56.81" r="0.85" fill="#111"/>
<circle cx="354.72" cy="68.65" r="0.85" fill="#111"/>
<circle cx="351.53" cy="67.96" r="0.85" fill="#111"/>
<rect x="358.50" y="61.57" width="5.2" height="43.73" fill="#1c5a96" stroke="#333" stroke-width="0.5"/>
<line x1="361.10" y1="59.37" x2="361.10" y2="61.57" stroke="#111" stroke-width="0.7" />
<line x1="359.80" y1="59.37" x2="362.40" y2="59.37" stroke="#111" stroke-width="0.7" />
<circle cx="362.55" cy="62.16" r="0.85" fill="#111"/>
<circle cx="360.19" cy="58.40" r="0.85" fill="#111"/>
<circle cx="361.21" cy="59.82" r="0.85" fill="#111"/>
<circle cx="360.99" cy="60.82" r="0.85" fill="#111"/>
<circle cx="359.11" cy="63.12" r="0.85" fill="#111"/>
<circle cx="359.61" cy="58.43" r="0.85" fill="#111"/>
<circle cx="359.37" cy="58.88" r="0.85" fill="#111"/>
<circle cx="362.52" cy="71.39" r="0.85" fill="#111"/>
<circle cx="361.11" cy="65.17" r="0.85" fill="#111"/>
<rect x="366.10" y="48.47" width="5.2" height="56.83" fill="#3cb44a" stroke="#333" stroke-width="0.5"/>
<line x1="368.70" y1="46.27" x2="368.70" y2="48.47" stroke="#111" stroke-width="0.7" />
<line x1="367.40" y1="46.27" x2="370.00" y2="46.27" stroke="#111" stroke-width="0.7" />
<circle cx="367.96" cy="47.03" r="0.85" fill="#111"/>
<circle cx="369.29" cy="47.26" r="0.85" fill="#111"/>
<circle cx="368.14" cy="48.79" r="0.85" fill="#111"/>
<circle cx="368.02" cy="46.21" r="0.85" fill="#111"/>
<circle cx="368.92" cy="45.78" r="0.85" fill="#111"/>
<circle cx="368.22" cy="49.63" r="0.85" fill="#111"/>
<circle cx="367.41" cy="45.49" r="0.85" fill="#111"/>
<circle cx="369.12" cy="54.09" r="0.85" fill="#111"/>
<circle cx="368.22" cy="56.95" r="0.85" fill="#111"/>
<line x1="361.10" y1="105.30" x2="361.10" y2="107.80" stroke="#111" stroke-width="0.9" />
<text transform="translate(364.60,114.90) rotate(-45)" font-size="7.3" text-anchor="end" font-weight="bold" fill="#1a1a1a" stroke="#1a1a1a" stroke-width="0.2">CXCL2</text>
<rect x="379.20" y="69.26" width="5.2" height="36.04" fill="#d52b3d" stroke="#333" stroke-width="0.5"/>
<line x1="381.80" y1="67.06" x2="381.80" y2="69.26" stroke="#111" stroke-width="0.7" />
<line x1="380.50" y1="67.06" x2="383.10" y2="67.06" stroke="#111" stroke-width="0.7" />
<circle cx="382.29" cy="70.97" r="0.85" fill="#111"/>
<circle cx="381.29" cy="68.57" r="0.85" fill="#111"/>
<circle cx="382.61" cy="68.99" r="0.85" fill="#111"/>
<circle cx="382.58" cy="68.50" r="0.85" fill="#111"/>
<circle cx="380.78" cy="68.76" r="0.85" fill="#111"/>
<circle cx="382.58" cy="69.25" r="0.85" fill="#111"/>
<circle cx="381.50" cy="66.23" r="0.85" fill="#111"/>
<circle cx="383.32" cy="75.24" r="0.85" fill="#111"/>
<circle cx="381.30" cy="78.82" r="0.85" fill="#111"/>
<rect x="386.80" y="71.25" width="5.2" height="34.05" fill="#1c5a96" stroke="#333" stroke-width="0.5"/>
<line x1="389.40" y1="69.05" x2="389.40" y2="71.25" stroke="#111" stroke-width="0.7" />
<line x1="388.10" y1="69.05" x2="390.70" y2="69.05" stroke="#111" stroke-width="0.7" />
<circle cx="390.56" cy="73.59" r="0.85" fill="#111"/>
<circle cx="389.26" cy="69.46" r="0.85" fill="#111"/>
<circle cx="390.65" cy="68.55" r="0.85" fill="#111"/>
<circle cx="390.95" cy="72.06" r="0.85" fill="#111"/>
<circle cx="390.07" cy="72.90" r="0.85" fill="#111"/>
<circle cx="389.66" cy="72.52" r="0.85" fill="#111"/>
<circle cx="389.75" cy="68.42" r="0.85" fill="#111"/>
<circle cx="387.97" cy="74.29" r="0.85" fill="#111"/>
<circle cx="387.58" cy="79.67" r="0.85" fill="#111"/>
<rect x="394.40" y="51.26" width="5.2" height="54.04" fill="#3cb44a" stroke="#333" stroke-width="0.5"/>
<line x1="397.00" y1="49.06" x2="397.00" y2="51.26" stroke="#111" stroke-width="0.7" />
<line x1="395.70" y1="49.06" x2="398.30" y2="49.06" stroke="#111" stroke-width="0.7" />
<circle cx="395.40" cy="48.35" r="0.85" fill="#111"/>
<circle cx="395.72" cy="53.48" r="0.85" fill="#111"/>
<circle cx="398.37" cy="47.91" r="0.85" fill="#111"/>
<circle cx="398.38" cy="48.54" r="0.85" fill="#111"/>
<circle cx="398.34" cy="52.13" r="0.85" fill="#111"/>
<circle cx="397.32" cy="53.95" r="0.85" fill="#111"/>
<circle cx="395.15" cy="52.95" r="0.85" fill="#111"/>
<circle cx="397.05" cy="59.63" r="0.85" fill="#111"/>
<circle cx="395.43" cy="59.26" r="0.85" fill="#111"/>
<line x1="389.40" y1="105.30" x2="389.40" y2="107.80" stroke="#111" stroke-width="0.9" />
<text transform="translate(392.90,114.90) rotate(-45)" font-size="7.3" text-anchor="end" font-weight="bold" fill="#1a1a1a" stroke="#1a1a1a" stroke-width="0.2">IL-12p40</text>
<rect x="407.50" y="64.08" width="5.2" height="41.22" fill="#d52b3d" stroke="#333" stroke-width="0.5"/>
<line x1="410.10" y1="61.88" x2="410.10" y2="64.08" stroke="#111" stroke-width="0.7" />
<line x1="408.80" y1="61.88" x2="411.40" y2="61.88" stroke="#111" stroke-width="0.7" />
<circle cx="411.84" cy="65.45" r="0.85" fill="#111"/>
<circle cx="409.40" cy="60.98" r="0.85" fill="#111"/>
<circle cx="411.41" cy="64.25" r="0.85" fill="#111"/>
<circle cx="408.82" cy="62.15" r="0.85" fill="#111"/>
<circle cx="410.56" cy="62.21" r="0.85" fill="#111"/>
<circle cx="409.67" cy="65.48" r="0.85" fill="#111"/>
<circle cx="409.69" cy="62.97" r="0.85" fill="#111"/>
<circle cx="409.77" cy="69.53" r="0.85" fill="#111"/>
<circle cx="410.10" cy="67.66" r="0.85" fill="#111"/>
<rect x="415.10" y="63.18" width="5.2" height="42.12" fill="#1c5a96" stroke="#333" stroke-width="0.5"/>
<line x1="417.70" y1="60.98" x2="417.70" y2="63.18" stroke="#111" stroke-width="0.7" />
<line x1="416.40" y1="60.98" x2="419.00" y2="60.98" stroke="#111" stroke-width="0.7" />
<circle cx="417.35" cy="66.00" r="0.85" fill="#111"/>
<circle cx="416.34" cy="64.53" r="0.85" fill="#111"/>
<circle cx="418.72" cy="64.17" r="0.85" fill="#111"/>
<circle cx="417.77" cy="64.06" r="0.85" fill="#111"/>
<circle cx="418.27" cy="62.82" r="0.85" fill="#111"/>
<circle cx="416.30" cy="65.51" r="0.85" fill="#111"/>
<circle cx="418.69" cy="60.30" r="0.85" fill="#111"/>
<circle cx="417.77" cy="72.59" r="0.85" fill="#111"/>
<circle cx="418.58" cy="69.28" r="0.85" fill="#111"/>
<rect x="422.70" y="67.05" width="5.2" height="38.25" fill="#3cb44a" stroke="#333" stroke-width="0.5"/>
<line x1="425.30" y1="64.85" x2="425.30" y2="67.05" stroke="#111" stroke-width="0.7" />
<line x1="424.00" y1="64.85" x2="426.60" y2="64.85" stroke="#111" stroke-width="0.7" />
<circle cx="424.37" cy="64.76" r="0.85" fill="#111"/>
<circle cx="425.64" cy="64.84" r="0.85" fill="#111"/>
<circle cx="424.23" cy="65.60" r="0.85" fill="#111"/>
<circle cx="427.11" cy="68.04" r="0.85" fill="#111"/>
<circle cx="426.12" cy="65.47" r="0.85" fill="#111"/>
<circle cx="426.71" cy="66.23" r="0.85" fill="#111"/>
<circle cx="424.37" cy="67.35" r="0.85" fill="#111"/>
<circle cx="423.39" cy="71.57" r="0.85" fill="#111"/>
<circle cx="424.83" cy="73.41" r="0.85" fill="#111"/>
<line x1="417.70" y1="105.30" x2="417.70" y2="107.80" stroke="#111" stroke-width="0.9" />
<text transform="translate(421.20,114.90) rotate(-45)" font-size="7.3" text-anchor="end" font-weight="bold" fill="#1a1a1a" stroke="#1a1a1a" stroke-width="0.2">IL-13</text>
<rect x="435.80" y="70.95" width="5.2" height="34.35" fill="#d52b3d" stroke="#333" stroke-width="0.5"/>
<line x1="438.40" y1="68.75" x2="438.40" y2="70.95" stroke="#111" stroke-width="0.7" />
<line x1="437.10" y1="68.75" x2="439.70" y2="68.75" stroke="#111" stroke-width="0.7" />
<circle cx="437.84" cy="68.57" r="0.85" fill="#111"/>
<circle cx="439.50" cy="69.55" r="0.85" fill="#111"/>
<circle cx="440.36" cy="68.39" r="0.85" fill="#111"/>
<circle cx="438.80" cy="70.57" r="0.85" fill="#111"/>
<circle cx="439.74" cy="70.49" r="0.85" fill="#111"/>
<circle cx="438.63" cy="72.79" r="0.85" fill="#111"/>
<circle cx="439.28" cy="70.58" r="0.85" fill="#111"/>
<circle cx="438.00" cy="79.95" r="0.85" fill="#111"/>
<circle cx="440.24" cy="79.09" r="0.85" fill="#111"/>
<rect x="443.40" y="69.26" width="5.2" height="36.04" fill="#1c5a96" stroke="#333" stroke-width="0.5"/>
<line x1="446.00" y1="67.06" x2="446.00" y2="69.26" stroke="#111" stroke-width="0.7" />
<line x1="444.70" y1="67.06" x2="447.30" y2="67.06" stroke="#111" stroke-width="0.7" />
<circle cx="444.92" cy="68.80" r="0.85" fill="#111"/>
<circle cx="446.87" cy="67.29" r="0.85" fill="#111"/>
<circle cx="447.83" cy="70.15" r="0.85" fill="#111"/>
<circle cx="444.97" cy="71.31" r="0.85" fill="#111"/>
<circle cx="445.03" cy="66.99" r="0.85" fill="#111"/>
<circle cx="446.82" cy="66.98" r="0.85" fill="#111"/>
<circle cx="447.60" cy="71.34" r="0.85" fill="#111"/>
<circle cx="447.46" cy="74.05" r="0.85" fill="#111"/>
<circle cx="445.69" cy="74.46" r="0.85" fill="#111"/>
<rect x="451.00" y="74.80" width="5.2" height="30.50" fill="#3cb44a" stroke="#333" stroke-width="0.5"/>
<line x1="453.60" y1="72.60" x2="453.60" y2="74.80" stroke="#111" stroke-width="0.7" />
<line x1="452.30" y1="72.60" x2="454.90" y2="72.60" stroke="#111" stroke-width="0.7" />
<circle cx="451.94" cy="76.04" r="0.85" fill="#111"/>
<circle cx="454.94" cy="71.90" r="0.85" fill="#111"/>
<circle cx="453.03" cy="73.20" r="0.85" fill="#111"/>
<circle cx="454.30" cy="75.07" r="0.85" fill="#111"/>
<circle cx="452.94" cy="71.35" r="0.85" fill="#111"/>
<circle cx="453.54" cy="74.14" r="0.85" fill="#111"/>
<circle cx="453.94" cy="72.67" r="0.85" fill="#111"/>
<circle cx="453.16" cy="84.49" r="0.85" fill="#111"/>
<circle cx="452.08" cy="81.61" r="0.85" fill="#111"/>
<line x1="446.00" y1="105.30" x2="446.00" y2="107.80" stroke="#111" stroke-width="0.9" />
<text transform="translate(449.50,114.90) rotate(-45)" font-size="7.3" text-anchor="end" font-weight="bold" fill="#1a1a1a" stroke="#1a1a1a" stroke-width="0.2">IL-2</text>
<rect x="464.10" y="54.08" width="5.2" height="51.22" fill="#d52b3d" stroke="#333" stroke-width="0.5"/>
<line x1="466.70" y1="51.88" x2="466.70" y2="54.08" stroke="#111" stroke-width="0.7" />
<line x1="465.40" y1="51.88" x2="468.00" y2="51.88" stroke="#111" stroke-width="0.7" />
<circle cx="467.36" cy="52.36" r="0.85" fill="#111"/>
<circle cx="468.25" cy="51.31" r="0.85" fill="#111"/>
<circle cx="465.09" cy="56.49" r="0.85" fill="#111"/>
<circle cx="466.20" cy="56.70" r="0.85" fill="#111"/>
<circle cx="467.73" cy="55.60" r="0.85" fill="#111"/>
<circle cx="467.40" cy="52.50" r="0.85" fill="#111"/>
<circle cx="467.92" cy="54.83" r="0.85" fill="#111"/>
<circle cx="467.72" cy="58.94" r="0.85" fill="#111"/>
<circle cx="467.39" cy="63.81" r="0.85" fill="#111"/>
<rect x="471.70" y="49.81" width="5.2" height="55.49" fill="#1c5a96" stroke="#333" stroke-width="0.5"/>
<line x1="474.30" y1="47.61" x2="474.30" y2="49.81" stroke="#111" stroke-width="0.7" />
<line x1="473.00" y1="47.61" x2="475.60" y2="47.61" stroke="#111" stroke-width="0.7" />
<circle cx="472.75" cy="49.80" r="0.85" fill="#111"/>
<circle cx="473.71" cy="49.52" r="0.85" fill="#111"/>
<circle cx="475.01" cy="50.98" r="0.85" fill="#111"/>
<circle cx="473.03" cy="49.99" r="0.85" fill="#111"/>
<circle cx="474.82" cy="50.51" r="0.85" fill="#111"/>
<circle cx="475.86" cy="47.48" r="0.85" fill="#111"/>
<circle cx="472.79" cy="50.57" r="0.85" fill="#111"/>
<circle cx="472.87" cy="59.34" r="0.85" fill="#111"/>
<circle cx="475.18" cy="55.13" r="0.85" fill="#111"/>
<rect x="479.30" y="47.82" width="5.2" height="57.48" fill="#3cb44a" stroke="#333" stroke-width="0.5"/>
<line x1="481.90" y1="45.62" x2="481.90" y2="47.82" stroke="#111" stroke-width="0.7" />
<line x1="480.60" y1="45.62" x2="483.20" y2="45.62" stroke="#111" stroke-width="0.7" />
<circle cx="482.12" cy="48.21" r="0.85" fill="#111"/>
<circle cx="481.73" cy="48.53" r="0.85" fill="#111"/>
<circle cx="480.61" cy="46.35" r="0.85" fill="#111"/>
<circle cx="482.76" cy="44.77" r="0.85" fill="#111"/>
<circle cx="482.07" cy="49.23" r="0.85" fill="#111"/>
<circle cx="481.34" cy="49.13" r="0.85" fill="#111"/>
<circle cx="481.43" cy="46.05" r="0.85" fill="#111"/>
<circle cx="480.07" cy="56.93" r="0.85" fill="#111"/>
<circle cx="480.89" cy="54.36" r="0.85" fill="#111"/>
<line x1="474.30" y1="105.30" x2="474.30" y2="107.80" stroke="#111" stroke-width="0.9" />
<text transform="translate(477.80,114.90) rotate(-45)" font-size="7.3" text-anchor="end" font-weight="bold" fill="#1a1a1a" stroke="#1a1a1a" stroke-width="0.2">IL-1&#945;</text>
<line x1="239.40" y1="38.10" x2="256.40" y2="38.10" stroke="#2a2a2a" stroke-width="1.0" />
<line x1="239.40" y1="36.80" x2="239.40" y2="39.40" stroke="#2a2a2a" stroke-width="1.0" />
<line x1="256.40" y1="36.80" x2="256.40" y2="39.40" stroke="#2a2a2a" stroke-width="1.0" />
<circle cx="247.90" cy="35.70" r="0.95" fill="#222"/>
<line x1="267.70" y1="38.10" x2="284.70" y2="38.10" stroke="#2a2a2a" stroke-width="1.0" />
<line x1="267.70" y1="36.80" x2="267.70" y2="39.40" stroke="#2a2a2a" stroke-width="1.0" />
<line x1="284.70" y1="36.80" x2="284.70" y2="39.40" stroke="#2a2a2a" stroke-width="1.0" />
<circle cx="276.20" cy="35.70" r="0.95" fill="#222"/>
<line x1="296.00" y1="38.10" x2="313.00" y2="38.10" stroke="#2a2a2a" stroke-width="1.0" />
<line x1="296.00" y1="36.80" x2="296.00" y2="39.40" stroke="#2a2a2a" stroke-width="1.0" />
<line x1="313.00" y1="36.80" x2="313.00" y2="39.40" stroke="#2a2a2a" stroke-width="1.0" />
<circle cx="303.10" cy="35.70" r="0.95" fill="#222"/>
<circle cx="305.90" cy="35.70" r="0.95" fill="#222"/>
<line x1="324.40" y1="45.50" x2="333.30" y2="45.50" stroke="#2a2a2a" stroke-width="1.0" />
<line x1="324.40" y1="44.20" x2="324.40" y2="46.80" stroke="#2a2a2a" stroke-width="1.0" />
<line x1="333.30" y1="44.20" x2="333.30" y2="46.80" stroke="#2a2a2a" stroke-width="1.0" />
<circle cx="328.85" cy="43.10" r="0.95" fill="#222"/>
<line x1="352.70" y1="45.50" x2="361.60" y2="45.50" stroke="#2a2a2a" stroke-width="1.0" />
<line x1="352.70" y1="44.20" x2="352.70" y2="46.80" stroke="#2a2a2a" stroke-width="1.0" />
<line x1="361.60" y1="44.20" x2="361.60" y2="46.80" stroke="#2a2a2a" stroke-width="1.0" />
<circle cx="357.15" cy="43.10" r="0.95" fill="#222"/>
<line x1="352.60" y1="38.10" x2="369.60" y2="38.10" stroke="#2a2a2a" stroke-width="1.0" />
<line x1="352.60" y1="36.80" x2="352.60" y2="39.40" stroke="#2a2a2a" stroke-width="1.0" />
<line x1="369.60" y1="36.80" x2="369.60" y2="39.40" stroke="#2a2a2a" stroke-width="1.0" />
<circle cx="361.10" cy="35.70" r="0.95" fill="#222"/>
<line x1="380.90" y1="38.10" x2="397.90" y2="38.10" stroke="#2a2a2a" stroke-width="1.0" />
<line x1="380.90" y1="36.80" x2="380.90" y2="39.40" stroke="#2a2a2a" stroke-width="1.0" />
<line x1="397.90" y1="36.80" x2="397.90" y2="39.40" stroke="#2a2a2a" stroke-width="1.0" />
<circle cx="388.00" cy="35.70" r="0.95" fill="#222"/>
<circle cx="390.80" cy="35.70" r="0.95" fill="#222"/>
<line x1="409.20" y1="38.10" x2="426.20" y2="38.10" stroke="#2a2a2a" stroke-width="1.0" />
<line x1="409.20" y1="36.80" x2="409.20" y2="39.40" stroke="#2a2a2a" stroke-width="1.0" />
<line x1="426.20" y1="36.80" x2="426.20" y2="39.40" stroke="#2a2a2a" stroke-width="1.0" />
<circle cx="417.70" cy="35.70" r="0.95" fill="#222"/>
<line x1="437.50" y1="38.10" x2="454.50" y2="38.10" stroke="#2a2a2a" stroke-width="1.0" />
<line x1="437.50" y1="36.80" x2="437.50" y2="39.40" stroke="#2a2a2a" stroke-width="1.0" />
<line x1="454.50" y1="36.80" x2="454.50" y2="39.40" stroke="#2a2a2a" stroke-width="1.0" />
<circle cx="446.00" cy="35.70" r="0.95" fill="#222"/>
<line x1="465.80" y1="38.10" x2="482.80" y2="38.10" stroke="#2a2a2a" stroke-width="1.0" />
<line x1="465.80" y1="36.80" x2="465.80" y2="39.40" stroke="#2a2a2a" stroke-width="1.0" />
<line x1="482.80" y1="36.80" x2="482.80" y2="39.40" stroke="#2a2a2a" stroke-width="1.0" />
<circle cx="474.30" cy="35.70" r="0.95" fill="#222"/>
<line x1="226.20" y1="178.20" x2="226.20" y2="249.20" stroke="#1a1a1a" stroke-width="1.1" />
<line x1="226.20" y1="249.20" x2="334.70" y2="249.20" stroke="#1a1a1a" stroke-width="1.1" />
<line x1="223.00" y1="249.20" x2="226.20" y2="249.20" stroke="#222" stroke-width="0.9" />
<text x="221.20" y="251.80" font-size="7.4" text-anchor="end" font-weight="normal" fill="#1a1a1a" stroke="#1a1a1a" stroke-width="0.4">0</text>
<line x1="223.00" y1="235.10" x2="226.20" y2="235.10" stroke="#222" stroke-width="0.9" />
<text x="221.20" y="237.70" font-size="7.4" text-anchor="end" font-weight="normal" fill="#1a1a1a" stroke="#1a1a1a" stroke-width="0.4">20</text>
<line x1="223.00" y1="221.00" x2="226.20" y2="221.00" stroke="#222" stroke-width="0.9" />
<text x="221.20" y="223.60" font-size="7.4" text-anchor="end" font-weight="normal" fill="#1a1a1a" stroke="#1a1a1a" stroke-width="0.4">40</text>
<line x1="223.00" y1="206.90" x2="226.20" y2="206.90" stroke="#222" stroke-width="0.9" />
<text x="221.20" y="209.50" font-size="7.4" text-anchor="end" font-weight="normal" fill="#1a1a1a" stroke="#1a1a1a" stroke-width="0.4">60</text>
<line x1="223.00" y1="192.80" x2="226.20" y2="192.80" stroke="#222" stroke-width="0.9" />
<text x="221.20" y="195.40" font-size="7.4" text-anchor="end" font-weight="normal" fill="#1a1a1a" stroke="#1a1a1a" stroke-width="0.4">80</text>
<line x1="223.00" y1="178.70" x2="226.20" y2="178.70" stroke="#222" stroke-width="0.9" />
<text x="221.20" y="181.30" font-size="7.4" text-anchor="end" font-weight="normal" fill="#1a1a1a" stroke="#1a1a1a" stroke-width="0.4">100</text>
<line x1="239.60" y1="249.20" x2="239.60" y2="251.80" stroke="#222" stroke-width="0.9" />
<line x1="266.50" y1="249.20" x2="266.50" y2="251.80" stroke="#222" stroke-width="0.9" />
<line x1="293.40" y1="249.20" x2="293.40" y2="251.80" stroke="#222" stroke-width="0.9" />
<line x1="320.30" y1="249.20" x2="320.30" y2="251.80" stroke="#222" stroke-width="0.9" />
<line x1="227.00" y1="216.42" x2="334.70" y2="216.42" stroke="#333" stroke-width="1.1" stroke-dasharray="1 1"/>
<line x1="227.00" y1="223.47" x2="334.70" y2="223.47" stroke="#333" stroke-width="1.1" stroke-dasharray="1 1"/>
<path d="M236.40,255.70 V258.70 H269.70 V255.70" fill="none" stroke="#333" stroke-width="0.9"/>
<path d="M290.20,255.70 V258.70 H324.30 V255.70" fill="none" stroke="#333" stroke-width="0.9"/>
<text x="253.55" y="269.00" font-size="7.5" text-anchor="middle" font-weight="normal" fill="#1a1a1a" stroke="#1a1a1a" stroke-width="0.35" letter-spacing="0.22">+anti-IL-6 Ab</text>
<text x="307.65" y="269.00" font-size="7.5" text-anchor="middle" font-weight="normal" fill="#1a1a1a" stroke="#1a1a1a" stroke-width="0.35" letter-spacing="0.22">+IgG</text>
<line x1="238.60" y1="175.80" x2="268.00" y2="175.80" stroke="#2a2a2a" stroke-width="1.0" />
<line x1="238.60" y1="174.30" x2="238.60" y2="177.30" stroke="#2a2a2a" stroke-width="1.0" />
<line x1="268.00" y1="174.30" x2="268.00" y2="177.30" stroke="#2a2a2a" stroke-width="1.0" />
<text x="253.30" y="173.30" font-size="7.2" text-anchor="middle" font-weight="normal" fill="#1a1a1a" stroke="#1a1a1a" stroke-width="0.3">ns</text>
<line x1="290.90" y1="175.80" x2="323.30" y2="175.80" stroke="#2a2a2a" stroke-width="1.0" />
<line x1="290.90" y1="174.30" x2="290.90" y2="177.30" stroke="#2a2a2a" stroke-width="1.0" />
<line x1="323.30" y1="174.30" x2="323.30" y2="177.30" stroke="#2a2a2a" stroke-width="1.0" />
<text x="307.10" y="173.30" font-size="7.2" text-anchor="middle" font-weight="normal" fill="#1a1a1a" stroke="#1a1a1a" stroke-width="0.3">ns</text>
<line x1="269.50" y1="164.30" x2="323.30" y2="164.30" stroke="#2a2a2a" stroke-width="1.0" />
<line x1="269.50" y1="162.80" x2="269.50" y2="165.80" stroke="#2a2a2a" stroke-width="1.0" />
<line x1="323.30" y1="162.80" x2="323.30" y2="165.80" stroke="#2a2a2a" stroke-width="1.0" />
<text x="296.40" y="161.80" font-size="7.2" text-anchor="middle" font-weight="normal" fill="#1a1a1a" stroke="#1a1a1a" stroke-width="0.3">ns</text>
<text transform="translate(201.00,214.00) rotate(-90)" font-size="7.6" text-anchor="middle" fill="#1a1a1a" stroke="#1a1a1a" stroke-width="0.42" textLength="23" lengthAdjust="spacingAndGlyphs">Hct (%)</text>
<line x1="239.60" y1="188.22" x2="266.50" y2="200.27" stroke="#1d5a97" stroke-width="0.9" />
<line x1="239.60" y1="189.27" x2="266.50" y2="201.40" stroke="#1d5a97" stroke-width="0.9" />
<line x1="239.60" y1="190.47" x2="266.50" y2="194.99" stroke="#1d5a97" stroke-width="0.9" />
<line x1="239.60" y1="195.76" x2="266.50" y2="188.43" stroke="#1d5a97" stroke-width="0.9" />
<line x1="239.60" y1="196.89" x2="266.50" y2="189.63" stroke="#1d5a97" stroke-width="0.9" />
<line x1="239.60" y1="199.85" x2="266.50" y2="191.11" stroke="#1d5a97" stroke-width="0.9" />
<line x1="239.60" y1="189.98" x2="266.50" y2="198.02" stroke="#1d5a97" stroke-width="0.9" />
<line x1="239.60" y1="195.62" x2="266.50" y2="192.73" stroke="#1d5a97" stroke-width="0.9" />
<line x1="239.60" y1="198.44" x2="266.50" y2="196.47" stroke="#1d5a97" stroke-width="0.9" />
<path d="M238.00,189.42 L241.20,189.42 L239.60,186.62 Z" fill="#1d5a97"/>
<circle cx="266.50" cy="200.27" r="1.6" fill="#1d5a97"/>
<path d="M238.00,190.47 L241.20,190.47 L239.60,187.67 Z" fill="#1d5a97"/>
<circle cx="266.50" cy="201.40" r="1.6" fill="#1d5a97"/>
<path d="M238.00,191.67 L241.20,191.67 L239.60,188.87 Z" fill="#1d5a97"/>
<circle cx="266.50" cy="194.99" r="1.6" fill="#1d5a97"/>
<path d="M238.00,196.96 L241.20,196.96 L239.60,194.16 Z" fill="#1d5a97"/>
<circle cx="266.50" cy="188.43" r="1.6" fill="#1d5a97"/>
<path d="M238.00,198.09 L241.20,198.09 L239.60,195.29 Z" fill="#1d5a97"/>
<circle cx="266.50" cy="189.63" r="1.6" fill="#1d5a97"/>
<path d="M238.00,201.05 L241.20,201.05 L239.60,198.25 Z" fill="#1d5a97"/>
<circle cx="266.50" cy="191.11" r="1.6" fill="#1d5a97"/>
<path d="M238.00,191.18 L241.20,191.18 L239.60,188.38 Z" fill="#1d5a97"/>
<circle cx="266.50" cy="198.02" r="1.6" fill="#1d5a97"/>
<path d="M238.00,196.82 L241.20,196.82 L239.60,194.02 Z" fill="#1d5a97"/>
<circle cx="266.50" cy="192.73" r="1.6" fill="#1d5a97"/>
<path d="M238.00,199.64 L241.20,199.64 L239.60,196.84 Z" fill="#1d5a97"/>
<circle cx="266.50" cy="196.47" r="1.6" fill="#1d5a97"/>
<line x1="293.40" y1="199.22" x2="320.30" y2="181.52" stroke="#3db54b" stroke-width="0.9" />
<line x1="293.40" y1="193.50" x2="320.30" y2="207.32" stroke="#3db54b" stroke-width="0.9" />
<line x1="293.40" y1="187.30" x2="320.30" y2="188.50" stroke="#3db54b" stroke-width="0.9" />
<line x1="293.40" y1="189.20" x2="320.30" y2="189.98" stroke="#3db54b" stroke-width="0.9" />
<line x1="293.40" y1="191.53" x2="320.30" y2="191.88" stroke="#3db54b" stroke-width="0.9" />
<line x1="293.40" y1="195.41" x2="320.30" y2="194.21" stroke="#3db54b" stroke-width="0.9" />
<line x1="293.40" y1="187.86" x2="320.30" y2="195.83" stroke="#3db54b" stroke-width="0.9" />
<line x1="293.40" y1="190.69" x2="320.30" y2="196.89" stroke="#3db54b" stroke-width="0.9" />
<line x1="293.40" y1="194.21" x2="320.30" y2="192.80" stroke="#3db54b" stroke-width="0.9" />
<path d="M291.80,200.42 L295.00,200.42 L293.40,197.62 Z" fill="#3db54b"/>
<circle cx="320.30" cy="181.52" r="1.6" fill="#3db54b"/>
<path d="M291.80,194.70 L295.00,194.70 L293.40,191.91 Z" fill="#3db54b"/>
<circle cx="320.30" cy="207.32" r="1.6" fill="#3db54b"/>
<path d="M291.80,188.50 L295.00,188.50 L293.40,185.70 Z" fill="#3db54b"/>
<circle cx="320.30" cy="188.50" r="1.6" fill="#3db54b"/>
<path d="M291.80,190.40 L295.00,190.40 L293.40,187.60 Z" fill="#3db54b"/>
<circle cx="320.30" cy="189.98" r="1.6" fill="#3db54b"/>
<path d="M291.80,192.73 L295.00,192.73 L293.40,189.93 Z" fill="#3db54b"/>
<circle cx="320.30" cy="191.88" r="1.6" fill="#3db54b"/>
<path d="M291.80,196.61 L295.00,196.61 L293.40,193.81 Z" fill="#3db54b"/>
<circle cx="320.30" cy="194.21" r="1.6" fill="#3db54b"/>
<path d="M291.80,189.06 L295.00,189.06 L293.40,186.26 Z" fill="#3db54b"/>
<circle cx="320.30" cy="195.83" r="1.6" fill="#3db54b"/>
<path d="M291.80,191.88 L295.00,191.88 L293.40,189.09 Z" fill="#3db54b"/>
<circle cx="320.30" cy="196.89" r="1.6" fill="#3db54b"/>
<path d="M291.80,195.41 L295.00,195.41 L293.40,192.61 Z" fill="#3db54b"/>
<circle cx="320.30" cy="192.80" r="1.6" fill="#3db54b"/>
<line x1="403.10" y1="177.60" x2="403.10" y2="249.80" stroke="#1a1a1a" stroke-width="1.1" />
<line x1="403.10" y1="249.80" x2="510.40" y2="249.80" stroke="#1a1a1a" stroke-width="1.1" />
<line x1="399.90" y1="249.80" x2="403.10" y2="249.80" stroke="#222" stroke-width="0.9" />
<text x="398.10" y="252.40" font-size="7.4" text-anchor="end" font-weight="normal" fill="#1a1a1a" stroke="#1a1a1a" stroke-width="0.4">0</text>
<line x1="399.90" y1="225.90" x2="403.10" y2="225.90" stroke="#222" stroke-width="0.9" />
<text x="398.10" y="228.50" font-size="7.4" text-anchor="end" font-weight="normal" fill="#1a1a1a" stroke="#1a1a1a" stroke-width="0.4">10</text>
<line x1="399.90" y1="202.00" x2="403.10" y2="202.00" stroke="#222" stroke-width="0.9" />
<text x="398.10" y="204.60" font-size="7.4" text-anchor="end" font-weight="normal" fill="#1a1a1a" stroke="#1a1a1a" stroke-width="0.4">20</text>
<line x1="399.90" y1="178.10" x2="403.10" y2="178.10" stroke="#222" stroke-width="0.9" />
<text x="398.10" y="180.70" font-size="7.4" text-anchor="end" font-weight="normal" fill="#1a1a1a" stroke="#1a1a1a" stroke-width="0.4">30</text>
<line x1="416.20" y1="249.80" x2="416.20" y2="252.40" stroke="#222" stroke-width="0.9" />
<line x1="443.00" y1="249.80" x2="443.00" y2="252.40" stroke="#222" stroke-width="0.9" />
<line x1="469.80" y1="249.80" x2="469.80" y2="252.40" stroke="#222" stroke-width="0.9" />
<line x1="496.60" y1="249.80" x2="496.60" y2="252.40" stroke="#222" stroke-width="0.9" />
<line x1="404.00" y1="225.90" x2="510.40" y2="225.90" stroke="#333" stroke-width="1.1" stroke-dasharray="1 1"/>
<line x1="404.00" y1="233.07" x2="510.40" y2="233.07" stroke="#333" stroke-width="1.1" stroke-dasharray="1 1"/>
<path d="M413.00,256.30 V259.30 H446.20 V256.30" fill="none" stroke="#333" stroke-width="0.9"/>
<path d="M466.60,256.30 V259.30 H500.60 V256.30" fill="none" stroke="#333" stroke-width="0.9"/>
<text x="430.10" y="269.60" font-size="7.5" text-anchor="middle" font-weight="normal" fill="#1a1a1a" stroke="#1a1a1a" stroke-width="0.35" letter-spacing="0.22">+anti-IL-6 Ab</text>
<text x="484.00" y="269.60" font-size="7.5" text-anchor="middle" font-weight="normal" fill="#1a1a1a" stroke="#1a1a1a" stroke-width="0.35" letter-spacing="0.22">+IgG</text>
<line x1="415.20" y1="175.20" x2="444.50" y2="175.20" stroke="#2a2a2a" stroke-width="1.0" />
<line x1="415.20" y1="173.70" x2="415.20" y2="176.70" stroke="#2a2a2a" stroke-width="1.0" />
<line x1="444.50" y1="173.70" x2="444.50" y2="176.70" stroke="#2a2a2a" stroke-width="1.0" />
<text x="429.85" y="172.70" font-size="7.2" text-anchor="middle" font-weight="normal" fill="#1a1a1a" stroke="#1a1a1a" stroke-width="0.3">ns</text>
<line x1="467.30" y1="175.20" x2="499.60" y2="175.20" stroke="#2a2a2a" stroke-width="1.0" />
<line x1="467.30" y1="173.70" x2="467.30" y2="176.70" stroke="#2a2a2a" stroke-width="1.0" />
<line x1="499.60" y1="173.70" x2="499.60" y2="176.70" stroke="#2a2a2a" stroke-width="1.0" />
<text x="483.45" y="172.70" font-size="7.2" text-anchor="middle" font-weight="normal" fill="#1a1a1a" stroke="#1a1a1a" stroke-width="0.3">ns</text>
<line x1="446.00" y1="163.70" x2="499.60" y2="163.70" stroke="#2a2a2a" stroke-width="1.0" />
<line x1="446.00" y1="162.20" x2="446.00" y2="165.20" stroke="#2a2a2a" stroke-width="1.0" />
<line x1="499.60" y1="162.20" x2="499.60" y2="165.20" stroke="#2a2a2a" stroke-width="1.0" />
<text x="472.80" y="161.20" font-size="7.2" text-anchor="middle" font-weight="normal" fill="#1a1a1a" stroke="#1a1a1a" stroke-width="0.3">ns</text>
<text transform="translate(381.70,214.40) rotate(-90)" font-size="7.6" text-anchor="middle" fill="#1a1a1a" stroke="#1a1a1a" stroke-width="0.42" textLength="33" lengthAdjust="spacingAndGlyphs">RBC (Tpt/L)</text>
<line x1="416.20" y1="200.81" x2="443.00" y2="185.75" stroke="#1d5a97" stroke-width="0.9" />
<line x1="416.20" y1="202.00" x2="443.00" y2="190.05" stroke="#1d5a97" stroke-width="0.9" />
<line x1="416.20" y1="203.19" x2="443.00" y2="191.48" stroke="#1d5a97" stroke-width="0.9" />
<line x1="416.20" y1="199.61" x2="443.00" y2="193.40" stroke="#1d5a97" stroke-width="0.9" />
<line x1="416.20" y1="203.91" x2="443.00" y2="197.22" stroke="#1d5a97" stroke-width="0.9" />
<line x1="416.20" y1="200.09" x2="443.00" y2="197.70" stroke="#1d5a97" stroke-width="0.9" />
<line x1="416.20" y1="201.52" x2="443.00" y2="199.13" stroke="#1d5a97" stroke-width="0.9" />
<line x1="416.20" y1="198.41" x2="443.00" y2="205.35" stroke="#1d5a97" stroke-width="0.9" />
<line x1="416.20" y1="204.39" x2="443.00" y2="194.35" stroke="#1d5a97" stroke-width="0.9" />
<path d="M414.60,202.00 L417.80,202.00 L416.20,199.21 Z" fill="#1d5a97"/>
<circle cx="443.00" cy="185.75" r="1.6" fill="#1d5a97"/>
<path d="M414.60,203.20 L417.80,203.20 L416.20,200.40 Z" fill="#1d5a97"/>
<circle cx="443.00" cy="190.05" r="1.6" fill="#1d5a97"/>
<path d="M414.60,204.39 L417.80,204.39 L416.20,201.59 Z" fill="#1d5a97"/>
<circle cx="443.00" cy="191.48" r="1.6" fill="#1d5a97"/>
<path d="M414.60,200.81 L417.80,200.81 L416.20,198.01 Z" fill="#1d5a97"/>
<circle cx="443.00" cy="193.40" r="1.6" fill="#1d5a97"/>
<path d="M414.60,205.11 L417.80,205.11 L416.20,202.31 Z" fill="#1d5a97"/>
<circle cx="443.00" cy="197.22" r="1.6" fill="#1d5a97"/>
<path d="M414.60,201.29 L417.80,201.29 L416.20,198.49 Z" fill="#1d5a97"/>
<circle cx="443.00" cy="197.70" r="1.6" fill="#1d5a97"/>
<path d="M414.60,202.72 L417.80,202.72 L416.20,199.92 Z" fill="#1d5a97"/>
<circle cx="443.00" cy="199.13" r="1.6" fill="#1d5a97"/>
<path d="M414.60,199.61 L417.80,199.61 L416.20,196.81 Z" fill="#1d5a97"/>
<circle cx="443.00" cy="205.35" r="1.6" fill="#1d5a97"/>
<path d="M414.60,205.59 L417.80,205.59 L416.20,202.79 Z" fill="#1d5a97"/>
<circle cx="443.00" cy="194.35" r="1.6" fill="#1d5a97"/>
<line x1="469.80" y1="205.82" x2="496.60" y2="186.47" stroke="#3db54b" stroke-width="0.9" />
<line x1="469.80" y1="195.07" x2="496.60" y2="214.67" stroke="#3db54b" stroke-width="0.9" />
<line x1="469.80" y1="196.50" x2="496.60" y2="187.66" stroke="#3db54b" stroke-width="0.9" />
<line x1="469.80" y1="198.41" x2="496.60" y2="191.48" stroke="#3db54b" stroke-width="0.9" />
<line x1="469.80" y1="200.33" x2="496.60" y2="193.87" stroke="#3db54b" stroke-width="0.9" />
<line x1="469.80" y1="202.00" x2="496.60" y2="196.26" stroke="#3db54b" stroke-width="0.9" />
<line x1="469.80" y1="197.22" x2="496.60" y2="198.18" stroke="#3db54b" stroke-width="0.9" />
<line x1="469.80" y1="199.61" x2="496.60" y2="200.09" stroke="#3db54b" stroke-width="0.9" />
<line x1="469.80" y1="200.81" x2="496.60" y2="200.81" stroke="#3db54b" stroke-width="0.9" />
<path d="M468.20,207.02 L471.40,207.02 L469.80,204.22 Z" fill="#3db54b"/>
<circle cx="496.60" cy="186.47" r="1.6" fill="#3db54b"/>
<path d="M468.20,196.27 L471.40,196.27 L469.80,193.47 Z" fill="#3db54b"/>
<circle cx="496.60" cy="214.67" r="1.6" fill="#3db54b"/>
<path d="M468.20,197.70 L471.40,197.70 L469.80,194.90 Z" fill="#3db54b"/>
<circle cx="496.60" cy="187.66" r="1.6" fill="#3db54b"/>
<path d="M468.20,199.61 L471.40,199.61 L469.80,196.81 Z" fill="#3db54b"/>
<circle cx="496.60" cy="191.48" r="1.6" fill="#3db54b"/>
<path d="M468.20,201.53 L471.40,201.53 L469.80,198.73 Z" fill="#3db54b"/>
<circle cx="496.60" cy="193.87" r="1.6" fill="#3db54b"/>
<path d="M468.20,203.20 L471.40,203.20 L469.80,200.40 Z" fill="#3db54b"/>
<circle cx="496.60" cy="196.26" r="1.6" fill="#3db54b"/>
<path d="M468.20,198.42 L471.40,198.42 L469.80,195.62 Z" fill="#3db54b"/>
<circle cx="496.60" cy="198.18" r="1.6" fill="#3db54b"/>
<path d="M468.20,200.81 L471.40,200.81 L469.80,198.01 Z" fill="#3db54b"/>
<circle cx="496.60" cy="200.09" r="1.6" fill="#3db54b"/>
<path d="M468.20,202.00 L471.40,202.00 L469.80,199.21 Z" fill="#3db54b"/>
<circle cx="496.60" cy="200.81" r="1.6" fill="#3db54b"/>
<line x1="225.00" y1="309.10" x2="225.00" y2="381.20" stroke="#1a1a1a" stroke-width="1.1" />
<line x1="225.00" y1="381.20" x2="333.30" y2="381.20" stroke="#1a1a1a" stroke-width="1.1" />
<line x1="221.80" y1="381.20" x2="225.00" y2="381.20" stroke="#222" stroke-width="0.9" />
<text x="220.00" y="383.80" font-size="7.4" text-anchor="end" font-weight="normal" fill="#1a1a1a" stroke="#1a1a1a" stroke-width="0.4">0</text>
<line x1="221.80" y1="363.30" x2="225.00" y2="363.30" stroke="#222" stroke-width="0.9" />
<text x="220.00" y="365.90" font-size="7.4" text-anchor="end" font-weight="normal" fill="#1a1a1a" stroke="#1a1a1a" stroke-width="0.4">20</text>
<line x1="221.80" y1="345.40" x2="225.00" y2="345.40" stroke="#222" stroke-width="0.9" />
<text x="220.00" y="348.00" font-size="7.4" text-anchor="end" font-weight="normal" fill="#1a1a1a" stroke="#1a1a1a" stroke-width="0.4">40</text>
<line x1="221.80" y1="327.50" x2="225.00" y2="327.50" stroke="#222" stroke-width="0.9" />
<text x="220.00" y="330.10" font-size="7.4" text-anchor="end" font-weight="normal" fill="#1a1a1a" stroke="#1a1a1a" stroke-width="0.4">60</text>
<line x1="221.80" y1="309.60" x2="225.00" y2="309.60" stroke="#222" stroke-width="0.9" />
<text x="220.00" y="312.20" font-size="7.4" text-anchor="end" font-weight="normal" fill="#1a1a1a" stroke="#1a1a1a" stroke-width="0.4">80</text>
<line x1="238.50" y1="381.20" x2="238.50" y2="383.80" stroke="#222" stroke-width="0.9" />
<line x1="265.40" y1="381.20" x2="265.40" y2="383.80" stroke="#222" stroke-width="0.9" />
<line x1="292.30" y1="381.20" x2="292.30" y2="383.80" stroke="#222" stroke-width="0.9" />
<line x1="319.20" y1="381.20" x2="319.20" y2="383.80" stroke="#222" stroke-width="0.9" />
<line x1="226.00" y1="328.39" x2="333.30" y2="328.39" stroke="#333" stroke-width="1.1" stroke-dasharray="1 1"/>
<line x1="226.00" y1="343.61" x2="333.30" y2="343.61" stroke="#333" stroke-width="1.1" stroke-dasharray="1 1"/>
<path d="M235.30,387.70 V390.70 H268.60 V387.70" fill="none" stroke="#333" stroke-width="0.9"/>
<path d="M289.10,387.70 V390.70 H323.20 V387.70" fill="none" stroke="#333" stroke-width="0.9"/>
<text x="252.45" y="401.00" font-size="7.5" text-anchor="middle" font-weight="normal" fill="#1a1a1a" stroke="#1a1a1a" stroke-width="0.35" letter-spacing="0.22">+anti-IL-6 Ab</text>
<text x="306.55" y="401.00" font-size="7.5" text-anchor="middle" font-weight="normal" fill="#1a1a1a" stroke="#1a1a1a" stroke-width="0.35" letter-spacing="0.22">+IgG</text>
<line x1="237.50" y1="306.70" x2="266.90" y2="306.70" stroke="#2a2a2a" stroke-width="1.0" />
<line x1="237.50" y1="305.20" x2="237.50" y2="308.20" stroke="#2a2a2a" stroke-width="1.0" />
<line x1="266.90" y1="305.20" x2="266.90" y2="308.20" stroke="#2a2a2a" stroke-width="1.0" />
<circle cx="252.20" cy="303.30" r="0.7" fill="#222"/>
<line x1="289.80" y1="306.70" x2="322.20" y2="306.70" stroke="#2a2a2a" stroke-width="1.0" />
<line x1="289.80" y1="305.20" x2="289.80" y2="308.20" stroke="#2a2a2a" stroke-width="1.0" />
<line x1="322.20" y1="305.20" x2="322.20" y2="308.20" stroke="#2a2a2a" stroke-width="1.0" />
<text x="306.00" y="304.20" font-size="7.2" text-anchor="middle" font-weight="normal" fill="#1a1a1a" stroke="#1a1a1a" stroke-width="0.3">ns</text>
<line x1="268.40" y1="295.20" x2="322.20" y2="295.20" stroke="#2a2a2a" stroke-width="1.0" />
<line x1="268.40" y1="293.70" x2="268.40" y2="296.70" stroke="#2a2a2a" stroke-width="1.0" />
<line x1="322.20" y1="293.70" x2="322.20" y2="296.70" stroke="#2a2a2a" stroke-width="1.0" />
<text x="295.30" y="292.70" font-size="7.2" text-anchor="middle" font-weight="normal" fill="#1a1a1a" stroke="#1a1a1a" stroke-width="0.3">ns</text>
<text transform="translate(203.30,346.00) rotate(-90)" font-size="7.6" text-anchor="middle" fill="#1a1a1a" stroke="#1a1a1a" stroke-width="0.42" textLength="25" lengthAdjust="spacingAndGlyphs">MCV (fL)</text>
<line x1="238.50" y1="343.34" x2="265.40" y2="344.06" stroke="#1d5a97" stroke-width="0.9" />
<line x1="238.50" y1="346.38" x2="265.40" y2="348.71" stroke="#1d5a97" stroke-width="0.9" />
<line x1="238.50" y1="347.46" x2="265.40" y2="350.23" stroke="#1d5a97" stroke-width="0.9" />
<line x1="238.50" y1="348.53" x2="265.40" y2="350.77" stroke="#1d5a97" stroke-width="0.9" />
<line x1="238.50" y1="349.43" x2="265.40" y2="352.20" stroke="#1d5a97" stroke-width="0.9" />
<line x1="238.50" y1="351.40" x2="265.40" y2="353.72" stroke="#1d5a97" stroke-width="0.9" />
<line x1="238.50" y1="347.19" x2="265.40" y2="349.88" stroke="#1d5a97" stroke-width="0.9" />
<path d="M236.90,344.54 L240.10,344.54 L238.50,341.74 Z" fill="#1d5a97"/>
<circle cx="265.40" cy="344.06" r="1.6" fill="#1d5a97"/>
<path d="M236.90,347.58 L240.10,347.58 L238.50,344.78 Z" fill="#1d5a97"/>
<circle cx="265.40" cy="348.71" r="1.6" fill="#1d5a97"/>
<path d="M236.90,348.66 L240.10,348.66 L238.50,345.86 Z" fill="#1d5a97"/>
<circle cx="265.40" cy="350.23" r="1.6" fill="#1d5a97"/>
<path d="M236.90,349.73 L240.10,349.73 L238.50,346.93 Z" fill="#1d5a97"/>
<circle cx="265.40" cy="350.77" r="1.6" fill="#1d5a97"/>
<path d="M236.90,350.63 L240.10,350.63 L238.50,347.83 Z" fill="#1d5a97"/>
<circle cx="265.40" cy="352.20" r="1.6" fill="#1d5a97"/>
<path d="M236.90,352.60 L240.10,352.60 L238.50,349.80 Z" fill="#1d5a97"/>
<circle cx="265.40" cy="353.72" r="1.6" fill="#1d5a97"/>
<path d="M236.90,348.39 L240.10,348.39 L238.50,345.59 Z" fill="#1d5a97"/>
<circle cx="265.40" cy="349.88" r="1.6" fill="#1d5a97"/>
<line x1="292.30" y1="343.34" x2="319.20" y2="346.38" stroke="#3db54b" stroke-width="0.9" />
<line x1="292.30" y1="344.77" x2="319.20" y2="348.26" stroke="#3db54b" stroke-width="0.9" />
<line x1="292.30" y1="346.38" x2="319.20" y2="344.06" stroke="#3db54b" stroke-width="0.9" />
<line x1="292.30" y1="348.26" x2="319.20" y2="350.23" stroke="#3db54b" stroke-width="0.9" />
<line x1="292.30" y1="350.23" x2="319.20" y2="352.47" stroke="#3db54b" stroke-width="0.9" />
<line x1="292.30" y1="349.43" x2="319.20" y2="351.22" stroke="#3db54b" stroke-width="0.9" />
<line x1="292.30" y1="345.40" x2="319.20" y2="346.30" stroke="#3db54b" stroke-width="0.9" />
<path d="M290.70,344.54 L293.90,344.54 L292.30,341.74 Z" fill="#3db54b"/>
<circle cx="319.20" cy="346.38" r="1.6" fill="#3db54b"/>
<path d="M290.70,345.97 L293.90,345.97 L292.30,343.17 Z" fill="#3db54b"/>
<circle cx="319.20" cy="348.26" r="1.6" fill="#3db54b"/>
<path d="M290.70,347.58 L293.90,347.58 L292.30,344.78 Z" fill="#3db54b"/>
<circle cx="319.20" cy="344.06" r="1.6" fill="#3db54b"/>
<path d="M290.70,349.46 L293.90,349.46 L292.30,346.66 Z" fill="#3db54b"/>
<circle cx="319.20" cy="350.23" r="1.6" fill="#3db54b"/>
<path d="M290.70,351.43 L293.90,351.43 L292.30,348.63 Z" fill="#3db54b"/>
<circle cx="319.20" cy="352.47" r="1.6" fill="#3db54b"/>
<path d="M290.70,350.63 L293.90,350.63 L292.30,347.83 Z" fill="#3db54b"/>
<circle cx="319.20" cy="351.22" r="1.6" fill="#3db54b"/>
<path d="M290.70,346.60 L293.90,346.60 L292.30,343.80 Z" fill="#3db54b"/>
<circle cx="319.20" cy="346.30" r="1.6" fill="#3db54b"/>
<line x1="402.30" y1="309.10" x2="402.30" y2="381.20" stroke="#1a1a1a" stroke-width="1.1" />
<line x1="402.30" y1="381.20" x2="510.30" y2="381.20" stroke="#1a1a1a" stroke-width="1.1" />
<line x1="399.10" y1="381.20" x2="402.30" y2="381.20" stroke="#222" stroke-width="0.9" />
<text x="397.30" y="383.80" font-size="7.4" text-anchor="end" font-weight="normal" fill="#1a1a1a" stroke="#1a1a1a" stroke-width="0.4">0</text>
<line x1="399.10" y1="366.88" x2="402.30" y2="366.88" stroke="#222" stroke-width="0.9" />
<text x="397.30" y="369.48" font-size="7.4" text-anchor="end" font-weight="normal" fill="#1a1a1a" stroke="#1a1a1a" stroke-width="0.4">500</text>
<line x1="399.10" y1="352.56" x2="402.30" y2="352.56" stroke="#222" stroke-width="0.9" />
<text x="397.30" y="355.16" font-size="7.4" text-anchor="end" font-weight="normal" fill="#1a1a1a" stroke="#1a1a1a" stroke-width="0.4">1000</text>
<line x1="399.10" y1="338.24" x2="402.30" y2="338.24" stroke="#222" stroke-width="0.9" />
<text x="397.30" y="340.84" font-size="7.4" text-anchor="end" font-weight="normal" fill="#1a1a1a" stroke="#1a1a1a" stroke-width="0.4">1500</text>
<line x1="399.10" y1="323.92" x2="402.30" y2="323.92" stroke="#222" stroke-width="0.9" />
<text x="397.30" y="326.52" font-size="7.4" text-anchor="end" font-weight="normal" fill="#1a1a1a" stroke="#1a1a1a" stroke-width="0.4">2000</text>
<line x1="399.10" y1="309.60" x2="402.30" y2="309.60" stroke="#222" stroke-width="0.9" />
<text x="397.30" y="312.20" font-size="7.4" text-anchor="end" font-weight="normal" fill="#1a1a1a" stroke="#1a1a1a" stroke-width="0.4">2500</text>
<line x1="416.30" y1="381.20" x2="416.30" y2="383.80" stroke="#222" stroke-width="0.9" />
<line x1="443.10" y1="381.20" x2="443.10" y2="383.80" stroke="#222" stroke-width="0.9" />
<line x1="469.90" y1="381.20" x2="469.90" y2="383.80" stroke="#222" stroke-width="0.9" />
<line x1="496.70" y1="381.20" x2="496.70" y2="383.80" stroke="#222" stroke-width="0.9" />
<line x1="403.00" y1="333.94" x2="510.30" y2="333.94" stroke="#333" stroke-width="1.1" stroke-dasharray="1 1"/>
<line x1="403.00" y1="359.43" x2="510.30" y2="359.43" stroke="#333" stroke-width="1.1" stroke-dasharray="1 1"/>
<path d="M413.10,387.70 V390.70 H446.30 V387.70" fill="none" stroke="#333" stroke-width="0.9"/>
<path d="M466.70,387.70 V390.70 H500.70 V387.70" fill="none" stroke="#333" stroke-width="0.9"/>
<text x="430.20" y="401.00" font-size="7.5" text-anchor="middle" font-weight="normal" fill="#1a1a1a" stroke="#1a1a1a" stroke-width="0.35" letter-spacing="0.22">+anti-IL-6 Ab</text>
<text x="484.10" y="401.00" font-size="7.5" text-anchor="middle" font-weight="normal" fill="#1a1a1a" stroke="#1a1a1a" stroke-width="0.35" letter-spacing="0.22">+IgG</text>
<line x1="415.30" y1="306.70" x2="444.60" y2="306.70" stroke="#2a2a2a" stroke-width="1.0" />
<line x1="415.30" y1="305.20" x2="415.30" y2="308.20" stroke="#2a2a2a" stroke-width="1.0" />
<line x1="444.60" y1="305.20" x2="444.60" y2="308.20" stroke="#2a2a2a" stroke-width="1.0" />
<text x="429.95" y="304.20" font-size="7.2" text-anchor="middle" font-weight="normal" fill="#1a1a1a" stroke="#1a1a1a" stroke-width="0.3">ns</text>
<line x1="467.40" y1="306.70" x2="499.70" y2="306.70" stroke="#2a2a2a" stroke-width="1.0" />
<line x1="467.40" y1="305.20" x2="467.40" y2="308.20" stroke="#2a2a2a" stroke-width="1.0" />
<line x1="499.70" y1="305.20" x2="499.70" y2="308.20" stroke="#2a2a2a" stroke-width="1.0" />
<text x="483.55" y="304.20" font-size="7.2" text-anchor="middle" font-weight="normal" fill="#1a1a1a" stroke="#1a1a1a" stroke-width="0.3">ns</text>
<line x1="446.10" y1="295.20" x2="499.70" y2="295.20" stroke="#2a2a2a" stroke-width="1.0" />
<line x1="446.10" y1="293.70" x2="446.10" y2="296.70" stroke="#2a2a2a" stroke-width="1.0" />
<line x1="499.70" y1="293.70" x2="499.70" y2="296.70" stroke="#2a2a2a" stroke-width="1.0" />
<text x="472.90" y="292.70" font-size="7.2" text-anchor="middle" font-weight="normal" fill="#1a1a1a" stroke="#1a1a1a" stroke-width="0.3">ns</text>
<text transform="translate(373.00,345.70) rotate(-90)" font-size="7.6" text-anchor="middle" fill="#1a1a1a" stroke="#1a1a1a" stroke-width="0.42" textLength="32.5" lengthAdjust="spacingAndGlyphs">PLT (Gpt/L)</text>
<line x1="416.30" y1="328.96" x2="443.10" y2="330.31" stroke="#1d5a97" stroke-width="0.9" />
<line x1="416.30" y1="338.35" x2="443.10" y2="326.70" stroke="#1d5a97" stroke-width="0.9" />
<line x1="416.30" y1="338.35" x2="443.10" y2="354.51" stroke="#1d5a97" stroke-width="0.9" />
<line x1="416.30" y1="339.24" x2="443.10" y2="353.59" stroke="#1d5a97" stroke-width="0.9" />
<line x1="416.30" y1="341.50" x2="443.10" y2="352.56" stroke="#1d5a97" stroke-width="0.9" />
<line x1="416.30" y1="345.51" x2="443.10" y2="352.19" stroke="#1d5a97" stroke-width="0.9" />
<line x1="416.30" y1="351.30" x2="443.10" y2="346.40" stroke="#1d5a97" stroke-width="0.9" />
<line x1="416.30" y1="352.70" x2="443.10" y2="353.13" stroke="#1d5a97" stroke-width="0.9" />
<line x1="416.30" y1="357.60" x2="443.10" y2="372.81" stroke="#1d5a97" stroke-width="0.9" />
<line x1="416.30" y1="351.70" x2="443.10" y2="352.56" stroke="#1d5a97" stroke-width="0.9" />
<path d="M414.70,330.16 L417.90,330.16 L416.30,327.36 Z" fill="#1d5a97"/>
<circle cx="443.10" cy="330.31" r="1.6" fill="#1d5a97"/>
<path d="M414.70,339.55 L417.90,339.55 L416.30,336.75 Z" fill="#1d5a97"/>
<circle cx="443.10" cy="326.70" r="1.6" fill="#1d5a97"/>
<path d="M414.70,339.55 L417.90,339.55 L416.30,336.75 Z" fill="#1d5a97"/>
<circle cx="443.10" cy="354.51" r="1.6" fill="#1d5a97"/>
<path d="M414.70,340.44 L417.90,340.44 L416.30,337.64 Z" fill="#1d5a97"/>
<circle cx="443.10" cy="353.59" r="1.6" fill="#1d5a97"/>
<path d="M414.70,342.70 L417.90,342.70 L416.30,339.90 Z" fill="#1d5a97"/>
<circle cx="443.10" cy="352.56" r="1.6" fill="#1d5a97"/>
<path d="M414.70,346.71 L417.90,346.71 L416.30,343.91 Z" fill="#1d5a97"/>
<circle cx="443.10" cy="352.19" r="1.6" fill="#1d5a97"/>
<path d="M414.70,352.50 L417.90,352.50 L416.30,349.70 Z" fill="#1d5a97"/>
<circle cx="443.10" cy="346.40" r="1.6" fill="#1d5a97"/>
<path d="M414.70,353.90 L417.90,353.90 L416.30,351.10 Z" fill="#1d5a97"/>
<circle cx="443.10" cy="353.13" r="1.6" fill="#1d5a97"/>
<path d="M414.70,358.80 L417.90,358.80 L416.30,356.00 Z" fill="#1d5a97"/>
<circle cx="443.10" cy="372.81" r="1.6" fill="#1d5a97"/>
<path d="M414.70,352.90 L417.90,352.90 L416.30,350.10 Z" fill="#1d5a97"/>
<circle cx="443.10" cy="352.56" r="1.6" fill="#1d5a97"/>
<line x1="469.90" y1="336.09" x2="496.70" y2="342.79" stroke="#3db54b" stroke-width="0.9" />
<line x1="469.90" y1="338.81" x2="496.70" y2="359.40" stroke="#3db54b" stroke-width="0.9" />
<line x1="469.90" y1="341.91" x2="496.70" y2="357.60" stroke="#3db54b" stroke-width="0.9" />
<line x1="469.90" y1="347.81" x2="496.70" y2="350.90" stroke="#3db54b" stroke-width="0.9" />
<line x1="469.90" y1="353.10" x2="496.70" y2="337.01" stroke="#3db54b" stroke-width="0.9" />
<line x1="469.90" y1="354.91" x2="496.70" y2="349.09" stroke="#3db54b" stroke-width="0.9" />
<line x1="469.90" y1="356.71" x2="496.70" y2="352.70" stroke="#3db54b" stroke-width="0.9" />
<line x1="469.90" y1="358.52" x2="496.70" y2="357.60" stroke="#3db54b" stroke-width="0.9" />
<line x1="469.90" y1="360.29" x2="496.70" y2="360.69" stroke="#3db54b" stroke-width="0.9" />
<line x1="469.90" y1="359.43" x2="496.70" y2="359.40" stroke="#3db54b" stroke-width="0.9" />
<path d="M468.30,337.29 L471.50,337.29 L469.90,334.49 Z" fill="#3db54b"/>
<circle cx="496.70" cy="342.79" r="1.6" fill="#3db54b"/>
<path d="M468.30,340.01 L471.50,340.01 L469.90,337.21 Z" fill="#3db54b"/>
<circle cx="496.70" cy="359.40" r="1.6" fill="#3db54b"/>
<path d="M468.30,343.11 L471.50,343.11 L469.90,340.31 Z" fill="#3db54b"/>
<circle cx="496.70" cy="357.60" r="1.6" fill="#3db54b"/>
<path d="M468.30,349.01 L471.50,349.01 L469.90,346.21 Z" fill="#3db54b"/>
<circle cx="496.70" cy="350.90" r="1.6" fill="#3db54b"/>
<path d="M468.30,354.30 L471.50,354.30 L469.90,351.50 Z" fill="#3db54b"/>
<circle cx="496.70" cy="337.01" r="1.6" fill="#3db54b"/>
<path d="M468.30,356.11 L471.50,356.11 L469.90,353.31 Z" fill="#3db54b"/>
<circle cx="496.70" cy="349.09" r="1.6" fill="#3db54b"/>
<path d="M468.30,357.91 L471.50,357.91 L469.90,355.11 Z" fill="#3db54b"/>
<circle cx="496.70" cy="352.70" r="1.6" fill="#3db54b"/>
<path d="M468.30,359.72 L471.50,359.72 L469.90,356.92 Z" fill="#3db54b"/>
<circle cx="496.70" cy="357.60" r="1.6" fill="#3db54b"/>
<path d="M468.30,361.49 L471.50,361.49 L469.90,358.69 Z" fill="#3db54b"/>
<circle cx="496.70" cy="360.69" r="1.6" fill="#3db54b"/>
<path d="M468.30,360.63 L471.50,360.63 L469.90,357.83 Z" fill="#3db54b"/>
<circle cx="496.70" cy="359.40" r="1.6" fill="#3db54b"/>
<line x1="55.80" y1="437.10" x2="55.80" y2="508.80" stroke="#1a1a1a" stroke-width="1.1" />
<line x1="55.80" y1="508.80" x2="163.30" y2="508.80" stroke="#1a1a1a" stroke-width="1.1" />
<line x1="52.60" y1="508.80" x2="55.80" y2="508.80" stroke="#222" stroke-width="0.9" />
<text x="50.80" y="511.40" font-size="7.4" text-anchor="end" font-weight="normal" fill="#1a1a1a" stroke="#1a1a1a" stroke-width="0.4">0</text>
<line x1="52.60" y1="494.56" x2="55.80" y2="494.56" stroke="#222" stroke-width="0.9" />
<text x="50.80" y="497.16" font-size="7.4" text-anchor="end" font-weight="normal" fill="#1a1a1a" stroke="#1a1a1a" stroke-width="0.4">5</text>
<line x1="52.60" y1="480.32" x2="55.80" y2="480.32" stroke="#222" stroke-width="0.9" />
<text x="50.80" y="482.92" font-size="7.4" text-anchor="end" font-weight="normal" fill="#1a1a1a" stroke="#1a1a1a" stroke-width="0.4">10</text>
<line x1="52.60" y1="466.08" x2="55.80" y2="466.08" stroke="#222" stroke-width="0.9" />
<text x="50.80" y="468.68" font-size="7.4" text-anchor="end" font-weight="normal" fill="#1a1a1a" stroke="#1a1a1a" stroke-width="0.4">15</text>
<line x1="52.60" y1="451.84" x2="55.80" y2="451.84" stroke="#222" stroke-width="0.9" />
<text x="50.80" y="454.44" font-size="7.4" text-anchor="end" font-weight="normal" fill="#1a1a1a" stroke="#1a1a1a" stroke-width="0.4">20</text>
<line x1="52.60" y1="437.60" x2="55.80" y2="437.60" stroke="#222" stroke-width="0.9" />
<text x="50.80" y="440.20" font-size="7.4" text-anchor="end" font-weight="normal" fill="#1a1a1a" stroke="#1a1a1a" stroke-width="0.4">25</text>
<line x1="69.20" y1="508.80" x2="69.20" y2="511.40" stroke="#222" stroke-width="0.9" />
<line x1="96.00" y1="508.80" x2="96.00" y2="511.40" stroke="#222" stroke-width="0.9" />
<line x1="122.80" y1="508.80" x2="122.80" y2="511.40" stroke="#222" stroke-width="0.9" />
<line x1="149.60" y1="508.80" x2="149.60" y2="511.40" stroke="#222" stroke-width="0.9" />
<line x1="57.00" y1="472.63" x2="163.30" y2="472.63" stroke="#333" stroke-width="1.1" stroke-dasharray="1 1"/>
<line x1="57.00" y1="499.69" x2="163.30" y2="499.69" stroke="#333" stroke-width="1.1" stroke-dasharray="1 1"/>
<path d="M66.00,515.30 V518.30 H99.20 V515.30" fill="none" stroke="#333" stroke-width="0.9"/>
<path d="M119.60,515.30 V518.30 H153.60 V515.30" fill="none" stroke="#333" stroke-width="0.9"/>
<text x="83.10" y="528.60" font-size="7.5" text-anchor="middle" font-weight="normal" fill="#1a1a1a" stroke="#1a1a1a" stroke-width="0.35" letter-spacing="0.22">+anti-IL-6 Ab</text>
<text x="137.00" y="528.60" font-size="7.5" text-anchor="middle" font-weight="normal" fill="#1a1a1a" stroke="#1a1a1a" stroke-width="0.35" letter-spacing="0.22">+IgG</text>
<line x1="68.20" y1="434.70" x2="97.50" y2="434.70" stroke="#2a2a2a" stroke-width="1.0" />
<line x1="68.20" y1="433.20" x2="68.20" y2="436.20" stroke="#2a2a2a" stroke-width="1.0" />
<line x1="97.50" y1="433.20" x2="97.50" y2="436.20" stroke="#2a2a2a" stroke-width="1.0" />
<text x="82.85" y="432.20" font-size="7.2" text-anchor="middle" font-weight="normal" fill="#1a1a1a" stroke="#1a1a1a" stroke-width="0.3">ns</text>
<line x1="120.30" y1="434.70" x2="152.60" y2="434.70" stroke="#2a2a2a" stroke-width="1.0" />
<line x1="120.30" y1="433.20" x2="120.30" y2="436.20" stroke="#2a2a2a" stroke-width="1.0" />
<line x1="152.60" y1="433.20" x2="152.60" y2="436.20" stroke="#2a2a2a" stroke-width="1.0" />
<text x="136.45" y="432.20" font-size="7.2" text-anchor="middle" font-weight="normal" fill="#1a1a1a" stroke="#1a1a1a" stroke-width="0.3">ns</text>
<line x1="99.00" y1="423.20" x2="152.60" y2="423.20" stroke="#2a2a2a" stroke-width="1.0" />
<line x1="99.00" y1="421.70" x2="99.00" y2="424.70" stroke="#2a2a2a" stroke-width="1.0" />
<line x1="152.60" y1="421.70" x2="152.60" y2="424.70" stroke="#2a2a2a" stroke-width="1.0" />
<text x="125.80" y="420.70" font-size="7.2" text-anchor="middle" font-weight="normal" fill="#1a1a1a" stroke="#1a1a1a" stroke-width="0.3">ns</text>
<text transform="translate(33.00,473.80) rotate(-90)" font-size="7.6" text-anchor="middle" fill="#1a1a1a" stroke="#1a1a1a" stroke-width="0.42" textLength="36.6" lengthAdjust="spacingAndGlyphs">WBC (Gpt/L)</text>
<line x1="69.20" y1="458.68" x2="96.00" y2="442.73" stroke="#1d5a97" stroke-width="0.9" />
<line x1="69.20" y1="454.97" x2="96.00" y2="463.23" stroke="#1d5a97" stroke-width="0.9" />
<line x1="69.20" y1="456.97" x2="96.00" y2="457.82" stroke="#1d5a97" stroke-width="0.9" />
<line x1="69.20" y1="460.95" x2="96.00" y2="466.93" stroke="#1d5a97" stroke-width="0.9" />
<line x1="69.20" y1="462.66" x2="96.00" y2="486.59" stroke="#1d5a97" stroke-width="0.9" />
<line x1="69.20" y1="472.63" x2="96.00" y2="464.94" stroke="#1d5a97" stroke-width="0.9" />
<line x1="69.20" y1="473.77" x2="96.00" y2="468.64" stroke="#1d5a97" stroke-width="0.9" />
<line x1="69.20" y1="475.19" x2="96.00" y2="484.59" stroke="#1d5a97" stroke-width="0.9" />
<line x1="69.20" y1="477.19" x2="96.00" y2="488.29" stroke="#1d5a97" stroke-width="0.9" />
<line x1="69.20" y1="473.20" x2="96.00" y2="472.63" stroke="#1d5a97" stroke-width="0.9" />
<line x1="69.20" y1="472.06" x2="96.00" y2="470.35" stroke="#1d5a97" stroke-width="0.9" />
<path d="M67.60,459.88 L70.80,459.88 L69.20,457.08 Z" fill="#1d5a97"/>
<circle cx="96.00" cy="442.73" r="1.6" fill="#1d5a97"/>
<path d="M67.60,456.17 L70.80,456.17 L69.20,453.37 Z" fill="#1d5a97"/>
<circle cx="96.00" cy="463.23" r="1.6" fill="#1d5a97"/>
<path d="M67.60,458.17 L70.80,458.17 L69.20,455.37 Z" fill="#1d5a97"/>
<circle cx="96.00" cy="457.82" r="1.6" fill="#1d5a97"/>
<path d="M67.60,462.15 L70.80,462.15 L69.20,459.35 Z" fill="#1d5a97"/>
<circle cx="96.00" cy="466.93" r="1.6" fill="#1d5a97"/>
<path d="M67.60,463.86 L70.80,463.86 L69.20,461.06 Z" fill="#1d5a97"/>
<circle cx="96.00" cy="486.59" r="1.6" fill="#1d5a97"/>
<path d="M67.60,473.83 L70.80,473.83 L69.20,471.03 Z" fill="#1d5a97"/>
<circle cx="96.00" cy="464.94" r="1.6" fill="#1d5a97"/>
<path d="M67.60,474.97 L70.80,474.97 L69.20,472.17 Z" fill="#1d5a97"/>
<circle cx="96.00" cy="468.64" r="1.6" fill="#1d5a97"/>
<path d="M67.60,476.39 L70.80,476.39 L69.20,473.59 Z" fill="#1d5a97"/>
<circle cx="96.00" cy="484.59" r="1.6" fill="#1d5a97"/>
<path d="M67.60,478.39 L70.80,478.39 L69.20,475.59 Z" fill="#1d5a97"/>
<circle cx="96.00" cy="488.29" r="1.6" fill="#1d5a97"/>
<path d="M67.60,474.40 L70.80,474.40 L69.20,471.60 Z" fill="#1d5a97"/>
<circle cx="96.00" cy="472.63" r="1.6" fill="#1d5a97"/>
<path d="M67.60,473.26 L70.80,473.26 L69.20,470.46 Z" fill="#1d5a97"/>
<circle cx="96.00" cy="470.35" r="1.6" fill="#1d5a97"/>
<line x1="122.80" y1="458.96" x2="149.60" y2="467.50" stroke="#3db54b" stroke-width="0.9" />
<line x1="122.80" y1="460.67" x2="149.60" y2="469.21" stroke="#3db54b" stroke-width="0.9" />
<line x1="122.80" y1="466.08" x2="149.60" y2="476.33" stroke="#3db54b" stroke-width="0.9" />
<line x1="122.80" y1="467.50" x2="149.60" y2="480.04" stroke="#3db54b" stroke-width="0.9" />
<line x1="122.80" y1="469.78" x2="149.60" y2="498.83" stroke="#3db54b" stroke-width="0.9" />
<line x1="122.80" y1="471.21" x2="149.60" y2="476.33" stroke="#3db54b" stroke-width="0.9" />
<line x1="122.80" y1="478.61" x2="149.60" y2="482.88" stroke="#3db54b" stroke-width="0.9" />
<line x1="122.80" y1="486.02" x2="149.60" y2="468.36" stroke="#3db54b" stroke-width="0.9" />
<path d="M121.20,460.16 L124.40,460.16 L122.80,457.36 Z" fill="#3db54b"/>
<circle cx="149.60" cy="467.50" r="1.6" fill="#3db54b"/>
<path d="M121.20,461.87 L124.40,461.87 L122.80,459.07 Z" fill="#3db54b"/>
<circle cx="149.60" cy="469.21" r="1.6" fill="#3db54b"/>
<path d="M121.20,467.28 L124.40,467.28 L122.80,464.48 Z" fill="#3db54b"/>
<circle cx="149.60" cy="476.33" r="1.6" fill="#3db54b"/>
<path d="M121.20,468.70 L124.40,468.70 L122.80,465.90 Z" fill="#3db54b"/>
<circle cx="149.60" cy="480.04" r="1.6" fill="#3db54b"/>
<path d="M121.20,470.98 L124.40,470.98 L122.80,468.18 Z" fill="#3db54b"/>
<circle cx="149.60" cy="498.83" r="1.6" fill="#3db54b"/>
<path d="M121.20,472.41 L124.40,472.41 L122.80,469.61 Z" fill="#3db54b"/>
<circle cx="149.60" cy="476.33" r="1.6" fill="#3db54b"/>
<path d="M121.20,479.81 L124.40,479.81 L122.80,477.01 Z" fill="#3db54b"/>
<circle cx="149.60" cy="482.88" r="1.6" fill="#3db54b"/>
<path d="M121.20,487.22 L124.40,487.22 L122.80,484.42 Z" fill="#3db54b"/>
<circle cx="149.60" cy="468.36" r="1.6" fill="#3db54b"/>
<line x1="225.00" y1="444.00" x2="225.00" y2="515.80" stroke="#1a1a1a" stroke-width="1.1" />
<line x1="225.00" y1="515.80" x2="333.80" y2="515.80" stroke="#1a1a1a" stroke-width="1.1" />
<line x1="221.80" y1="515.80" x2="225.00" y2="515.80" stroke="#222" stroke-width="0.9" />
<text x="220.00" y="518.40" font-size="7.4" text-anchor="end" font-weight="normal" fill="#1a1a1a" stroke="#1a1a1a" stroke-width="0.4">0</text>
<line x1="221.80" y1="501.54" x2="225.00" y2="501.54" stroke="#222" stroke-width="0.9" />
<text x="220.00" y="504.14" font-size="7.4" text-anchor="end" font-weight="normal" fill="#1a1a1a" stroke="#1a1a1a" stroke-width="0.4">5</text>
<line x1="221.80" y1="487.28" x2="225.00" y2="487.28" stroke="#222" stroke-width="0.9" />
<text x="220.00" y="489.88" font-size="7.4" text-anchor="end" font-weight="normal" fill="#1a1a1a" stroke="#1a1a1a" stroke-width="0.4">10</text>
<line x1="221.80" y1="473.02" x2="225.00" y2="473.02" stroke="#222" stroke-width="0.9" />
<text x="220.00" y="475.62" font-size="7.4" text-anchor="end" font-weight="normal" fill="#1a1a1a" stroke="#1a1a1a" stroke-width="0.4">15</text>
<line x1="221.80" y1="458.76" x2="225.00" y2="458.76" stroke="#222" stroke-width="0.9" />
<text x="220.00" y="461.36" font-size="7.4" text-anchor="end" font-weight="normal" fill="#1a1a1a" stroke="#1a1a1a" stroke-width="0.4">20</text>
<line x1="221.80" y1="444.50" x2="225.00" y2="444.50" stroke="#222" stroke-width="0.9" />
<text x="220.00" y="447.10" font-size="7.4" text-anchor="end" font-weight="normal" fill="#1a1a1a" stroke="#1a1a1a" stroke-width="0.4">25</text>
<line x1="238.50" y1="515.80" x2="238.50" y2="518.40" stroke="#222" stroke-width="0.9" />
<line x1="265.40" y1="515.80" x2="265.40" y2="518.40" stroke="#222" stroke-width="0.9" />
<line x1="292.30" y1="515.80" x2="292.30" y2="518.40" stroke="#222" stroke-width="0.9" />
<line x1="319.20" y1="515.80" x2="319.20" y2="518.40" stroke="#222" stroke-width="0.9" />
<line x1="226.00" y1="479.29" x2="333.80" y2="479.29" stroke="#333" stroke-width="1.1" stroke-dasharray="1 1"/>
<line x1="226.00" y1="506.67" x2="333.80" y2="506.67" stroke="#333" stroke-width="1.1" stroke-dasharray="1 1"/>
<path d="M235.30,522.30 V525.30 H268.60 V522.30" fill="none" stroke="#333" stroke-width="0.9"/>
<path d="M289.10,522.30 V525.30 H323.20 V522.30" fill="none" stroke="#333" stroke-width="0.9"/>
<text x="252.45" y="535.60" font-size="7.5" text-anchor="middle" font-weight="normal" fill="#1a1a1a" stroke="#1a1a1a" stroke-width="0.35" letter-spacing="0.22">+anti-IL-6 Ab</text>
<text x="306.55" y="535.60" font-size="7.5" text-anchor="middle" font-weight="normal" fill="#1a1a1a" stroke="#1a1a1a" stroke-width="0.35" letter-spacing="0.22">+IgG</text>
<line x1="237.50" y1="441.60" x2="266.90" y2="441.60" stroke="#2a2a2a" stroke-width="1.0" />
<line x1="237.50" y1="440.10" x2="237.50" y2="443.10" stroke="#2a2a2a" stroke-width="1.0" />
<line x1="266.90" y1="440.10" x2="266.90" y2="443.10" stroke="#2a2a2a" stroke-width="1.0" />
<text x="252.20" y="439.10" font-size="7.2" text-anchor="middle" font-weight="normal" fill="#1a1a1a" stroke="#1a1a1a" stroke-width="0.3">ns</text>
<line x1="289.80" y1="441.60" x2="322.20" y2="441.60" stroke="#2a2a2a" stroke-width="1.0" />
<line x1="289.80" y1="440.10" x2="289.80" y2="443.10" stroke="#2a2a2a" stroke-width="1.0" />
<line x1="322.20" y1="440.10" x2="322.20" y2="443.10" stroke="#2a2a2a" stroke-width="1.0" />
<text x="306.00" y="439.10" font-size="7.2" text-anchor="middle" font-weight="normal" fill="#1a1a1a" stroke="#1a1a1a" stroke-width="0.3">ns</text>
<line x1="268.40" y1="430.10" x2="322.20" y2="430.10" stroke="#2a2a2a" stroke-width="1.0" />
<line x1="268.40" y1="428.60" x2="268.40" y2="431.60" stroke="#2a2a2a" stroke-width="1.0" />
<line x1="322.20" y1="428.60" x2="322.20" y2="431.60" stroke="#2a2a2a" stroke-width="1.0" />
<text x="295.30" y="427.60" font-size="7.2" text-anchor="middle" font-weight="normal" fill="#1a1a1a" stroke="#1a1a1a" stroke-width="0.3">ns</text>
<text transform="translate(203.00,480.70) rotate(-90)" font-size="7.6" text-anchor="middle" fill="#1a1a1a" stroke="#1a1a1a" stroke-width="0.42" textLength="56" lengthAdjust="spacingAndGlyphs">Lymphocyte (Gpt/L)</text>
<line x1="238.50" y1="473.02" x2="265.40" y2="456.48" stroke="#1d5a97" stroke-width="0.9" />
<line x1="238.50" y1="465.32" x2="265.40" y2="473.88" stroke="#1d5a97" stroke-width="0.9" />
<line x1="238.50" y1="469.88" x2="265.40" y2="467.32" stroke="#1d5a97" stroke-width="0.9" />
<line x1="238.50" y1="473.59" x2="265.40" y2="480.15" stroke="#1d5a97" stroke-width="0.9" />
<line x1="238.50" y1="474.16" x2="265.40" y2="495.27" stroke="#1d5a97" stroke-width="0.9" />
<line x1="238.50" y1="483.00" x2="265.40" y2="480.72" stroke="#1d5a97" stroke-width="0.9" />
<line x1="238.50" y1="484.14" x2="265.40" y2="483.29" stroke="#1d5a97" stroke-width="0.9" />
<line x1="238.50" y1="487.85" x2="265.40" y2="479.86" stroke="#1d5a97" stroke-width="0.9" />
<line x1="238.50" y1="483.57" x2="265.40" y2="496.69" stroke="#1d5a97" stroke-width="0.9" />
<path d="M236.90,474.22 L240.10,474.22 L238.50,471.42 Z" fill="#1d5a97"/>
<circle cx="265.40" cy="456.48" r="1.6" fill="#1d5a97"/>
<path d="M236.90,466.52 L240.10,466.52 L238.50,463.72 Z" fill="#1d5a97"/>
<circle cx="265.40" cy="473.88" r="1.6" fill="#1d5a97"/>
<path d="M236.90,471.08 L240.10,471.08 L238.50,468.28 Z" fill="#1d5a97"/>
<circle cx="265.40" cy="467.32" r="1.6" fill="#1d5a97"/>
<path d="M236.90,474.79 L240.10,474.79 L238.50,471.99 Z" fill="#1d5a97"/>
<circle cx="265.40" cy="480.15" r="1.6" fill="#1d5a97"/>
<path d="M236.90,475.36 L240.10,475.36 L238.50,472.56 Z" fill="#1d5a97"/>
<circle cx="265.40" cy="495.27" r="1.6" fill="#1d5a97"/>
<path d="M236.90,484.20 L240.10,484.20 L238.50,481.40 Z" fill="#1d5a97"/>
<circle cx="265.40" cy="480.72" r="1.6" fill="#1d5a97"/>
<path d="M236.90,485.34 L240.10,485.34 L238.50,482.54 Z" fill="#1d5a97"/>
<circle cx="265.40" cy="483.29" r="1.6" fill="#1d5a97"/>
<path d="M236.90,489.05 L240.10,489.05 L238.50,486.25 Z" fill="#1d5a97"/>
<circle cx="265.40" cy="479.86" r="1.6" fill="#1d5a97"/>
<path d="M236.90,484.77 L240.10,484.77 L238.50,481.97 Z" fill="#1d5a97"/>
<circle cx="265.40" cy="496.69" r="1.6" fill="#1d5a97"/>
<line x1="292.30" y1="469.31" x2="319.20" y2="479.29" stroke="#3db54b" stroke-width="0.9" />
<line x1="292.30" y1="472.16" x2="319.20" y2="484.14" stroke="#3db54b" stroke-width="0.9" />
<line x1="292.30" y1="474.73" x2="319.20" y2="506.96" stroke="#3db54b" stroke-width="0.9" />
<line x1="292.30" y1="478.15" x2="319.20" y2="485.85" stroke="#3db54b" stroke-width="0.9" />
<line x1="292.30" y1="483.00" x2="319.20" y2="489.56" stroke="#3db54b" stroke-width="0.9" />
<line x1="292.30" y1="489.28" x2="319.20" y2="492.70" stroke="#3db54b" stroke-width="0.9" />
<line x1="292.30" y1="495.84" x2="319.20" y2="479.86" stroke="#3db54b" stroke-width="0.9" />
<line x1="292.30" y1="482.15" x2="319.20" y2="484.43" stroke="#3db54b" stroke-width="0.9" />
<path d="M290.70,470.51 L293.90,470.51 L292.30,467.71 Z" fill="#3db54b"/>
<circle cx="319.20" cy="479.29" r="1.6" fill="#3db54b"/>
<path d="M290.70,473.36 L293.90,473.36 L292.30,470.56 Z" fill="#3db54b"/>
<circle cx="319.20" cy="484.14" r="1.6" fill="#3db54b"/>
<path d="M290.70,475.93 L293.90,475.93 L292.30,473.13 Z" fill="#3db54b"/>
<circle cx="319.20" cy="506.96" r="1.6" fill="#3db54b"/>
<path d="M290.70,479.35 L293.90,479.35 L292.30,476.55 Z" fill="#3db54b"/>
<circle cx="319.20" cy="485.85" r="1.6" fill="#3db54b"/>
<path d="M290.70,484.20 L293.90,484.20 L292.30,481.40 Z" fill="#3db54b"/>
<circle cx="319.20" cy="489.56" r="1.6" fill="#3db54b"/>
<path d="M290.70,490.48 L293.90,490.48 L292.30,487.68 Z" fill="#3db54b"/>
<circle cx="319.20" cy="492.70" r="1.6" fill="#3db54b"/>
<path d="M290.70,497.04 L293.90,497.04 L292.30,494.24 Z" fill="#3db54b"/>
<circle cx="319.20" cy="479.86" r="1.6" fill="#3db54b"/>
<path d="M290.70,483.35 L293.90,483.35 L292.30,480.55 Z" fill="#3db54b"/>
<circle cx="319.20" cy="484.43" r="1.6" fill="#3db54b"/>
<line x1="402.30" y1="444.00" x2="402.30" y2="515.80" stroke="#1a1a1a" stroke-width="1.1" />
<line x1="402.30" y1="515.80" x2="508.70" y2="515.80" stroke="#1a1a1a" stroke-width="1.1" />
<line x1="399.10" y1="515.80" x2="402.30" y2="515.80" stroke="#222" stroke-width="0.9" />
<text x="397.30" y="518.40" font-size="7.4" text-anchor="end" font-weight="normal" fill="#1a1a1a" stroke="#1a1a1a" stroke-width="0.4">0.0</text>
<line x1="399.10" y1="497.97" x2="402.30" y2="497.97" stroke="#222" stroke-width="0.9" />
<text x="397.30" y="500.57" font-size="7.4" text-anchor="end" font-weight="normal" fill="#1a1a1a" stroke="#1a1a1a" stroke-width="0.4">0.5</text>
<line x1="399.10" y1="480.15" x2="402.30" y2="480.15" stroke="#222" stroke-width="0.9" />
<text x="397.30" y="482.75" font-size="7.4" text-anchor="end" font-weight="normal" fill="#1a1a1a" stroke="#1a1a1a" stroke-width="0.4">1.0</text>
<line x1="399.10" y1="462.32" x2="402.30" y2="462.32" stroke="#222" stroke-width="0.9" />
<text x="397.30" y="464.93" font-size="7.4" text-anchor="end" font-weight="normal" fill="#1a1a1a" stroke="#1a1a1a" stroke-width="0.4">1.5</text>
<line x1="399.10" y1="444.50" x2="402.30" y2="444.50" stroke="#222" stroke-width="0.9" />
<text x="397.30" y="447.10" font-size="7.4" text-anchor="end" font-weight="normal" fill="#1a1a1a" stroke="#1a1a1a" stroke-width="0.4">2.0</text>
<line x1="415.80" y1="515.80" x2="415.80" y2="518.40" stroke="#222" stroke-width="0.9" />
<line x1="442.70" y1="515.80" x2="442.70" y2="518.40" stroke="#222" stroke-width="0.9" />
<line x1="469.60" y1="515.80" x2="469.60" y2="518.40" stroke="#222" stroke-width="0.9" />
<line x1="496.50" y1="515.80" x2="496.50" y2="518.40" stroke="#222" stroke-width="0.9" />
<path d="M412.60,522.30 V525.30 H445.90 V522.30" fill="none" stroke="#333" stroke-width="0.9"/>
<path d="M466.40,522.30 V525.30 H500.50 V522.30" fill="none" stroke="#333" stroke-width="0.9"/>
<text x="429.75" y="535.60" font-size="7.5" text-anchor="middle" font-weight="normal" fill="#1a1a1a" stroke="#1a1a1a" stroke-width="0.35" letter-spacing="0.22">+anti-IL-6 Ab</text>
<text x="483.85" y="535.60" font-size="7.5" text-anchor="middle" font-weight="normal" fill="#1a1a1a" stroke="#1a1a1a" stroke-width="0.35" letter-spacing="0.22">+IgG</text>
<line x1="414.80" y1="441.60" x2="444.20" y2="441.60" stroke="#2a2a2a" stroke-width="1.0" />
<line x1="414.80" y1="440.10" x2="414.80" y2="443.10" stroke="#2a2a2a" stroke-width="1.0" />
<line x1="444.20" y1="440.10" x2="444.20" y2="443.10" stroke="#2a2a2a" stroke-width="1.0" />
<text x="429.50" y="439.10" font-size="7.2" text-anchor="middle" font-weight="normal" fill="#1a1a1a" stroke="#1a1a1a" stroke-width="0.3">ns</text>
<line x1="467.10" y1="441.60" x2="499.50" y2="441.60" stroke="#2a2a2a" stroke-width="1.0" />
<line x1="467.10" y1="440.10" x2="467.10" y2="443.10" stroke="#2a2a2a" stroke-width="1.0" />
<line x1="499.50" y1="440.10" x2="499.50" y2="443.10" stroke="#2a2a2a" stroke-width="1.0" />
<text x="483.30" y="439.10" font-size="7.2" text-anchor="middle" font-weight="normal" fill="#1a1a1a" stroke="#1a1a1a" stroke-width="0.3">ns</text>
<line x1="445.70" y1="430.10" x2="499.50" y2="430.10" stroke="#2a2a2a" stroke-width="1.0" />
<line x1="445.70" y1="428.60" x2="445.70" y2="431.60" stroke="#2a2a2a" stroke-width="1.0" />
<line x1="499.50" y1="428.60" x2="499.50" y2="431.60" stroke="#2a2a2a" stroke-width="1.0" />
<text x="472.60" y="427.60" font-size="7.2" text-anchor="middle" font-weight="normal" fill="#1a1a1a" stroke="#1a1a1a" stroke-width="0.3">ns</text>
<text transform="translate(380.60,480.70) rotate(-90)" font-size="7.6" text-anchor="middle" fill="#1a1a1a" stroke="#1a1a1a" stroke-width="0.42" textLength="52" lengthAdjust="spacingAndGlyphs">Neutrophil (Gpt/L)</text>
<line x1="415.80" y1="473.73" x2="442.70" y2="490.13" stroke="#1d5a97" stroke-width="0.9" />
<line x1="415.80" y1="491.20" x2="442.70" y2="468.03" stroke="#1d5a97" stroke-width="0.9" />
<line x1="415.80" y1="486.57" x2="442.70" y2="485.85" stroke="#1d5a97" stroke-width="0.9" />
<line x1="415.80" y1="491.20" x2="442.70" y2="509.74" stroke="#1d5a97" stroke-width="0.9" />
<line x1="415.80" y1="496.19" x2="442.70" y2="491.20" stroke="#1d5a97" stroke-width="0.9" />
<line x1="415.80" y1="498.33" x2="442.70" y2="505.10" stroke="#1d5a97" stroke-width="0.9" />
<line x1="415.80" y1="507.60" x2="442.70" y2="495.48" stroke="#1d5a97" stroke-width="0.9" />
<line x1="415.80" y1="497.26" x2="442.70" y2="494.41" stroke="#1d5a97" stroke-width="0.9" />
<line x1="415.80" y1="497.97" x2="442.70" y2="487.28" stroke="#1d5a97" stroke-width="0.9" />
<path d="M414.20,474.93 L417.40,474.93 L415.80,472.13 Z" fill="#1d5a97"/>
<circle cx="442.70" cy="490.13" r="1.6" fill="#1d5a97"/>
<path d="M414.20,492.40 L417.40,492.40 L415.80,489.60 Z" fill="#1d5a97"/>
<circle cx="442.70" cy="468.03" r="1.6" fill="#1d5a97"/>
<path d="M414.20,487.77 L417.40,487.77 L415.80,484.97 Z" fill="#1d5a97"/>
<circle cx="442.70" cy="485.85" r="1.6" fill="#1d5a97"/>
<path d="M414.20,492.40 L417.40,492.40 L415.80,489.60 Z" fill="#1d5a97"/>
<circle cx="442.70" cy="509.74" r="1.6" fill="#1d5a97"/>
<path d="M414.20,497.39 L417.40,497.39 L415.80,494.59 Z" fill="#1d5a97"/>
<circle cx="442.70" cy="491.20" r="1.6" fill="#1d5a97"/>
<path d="M414.20,499.53 L417.40,499.53 L415.80,496.73 Z" fill="#1d5a97"/>
<circle cx="442.70" cy="505.10" r="1.6" fill="#1d5a97"/>
<path d="M414.20,508.80 L417.40,508.80 L415.80,506.00 Z" fill="#1d5a97"/>
<circle cx="442.70" cy="495.48" r="1.6" fill="#1d5a97"/>
<path d="M414.20,498.46 L417.40,498.46 L415.80,495.66 Z" fill="#1d5a97"/>
<circle cx="442.70" cy="494.41" r="1.6" fill="#1d5a97"/>
<path d="M414.20,499.17 L417.40,499.17 L415.80,496.37 Z" fill="#1d5a97"/>
<circle cx="442.70" cy="487.28" r="1.6" fill="#1d5a97"/>
<line x1="469.60" y1="484.07" x2="496.50" y2="500.83" stroke="#3db54b" stroke-width="0.9" />
<line x1="469.60" y1="490.84" x2="496.50" y2="494.77" stroke="#3db54b" stroke-width="0.9" />
<line x1="469.60" y1="491.91" x2="496.50" y2="503.68" stroke="#3db54b" stroke-width="0.9" />
<line x1="469.60" y1="496.19" x2="496.50" y2="492.63" stroke="#3db54b" stroke-width="0.9" />
<line x1="469.60" y1="497.26" x2="496.50" y2="496.55" stroke="#3db54b" stroke-width="0.9" />
<line x1="469.60" y1="501.90" x2="496.50" y2="498.33" stroke="#3db54b" stroke-width="0.9" />
<line x1="469.60" y1="505.46" x2="496.50" y2="509.74" stroke="#3db54b" stroke-width="0.9" />
<line x1="469.60" y1="511.17" x2="496.50" y2="497.26" stroke="#3db54b" stroke-width="0.9" />
<line x1="469.60" y1="494.41" x2="496.50" y2="494.41" stroke="#3db54b" stroke-width="0.9" />
<path d="M468.00,485.27 L471.20,485.27 L469.60,482.47 Z" fill="#3db54b"/>
<circle cx="496.50" cy="500.83" r="1.6" fill="#3db54b"/>
<path d="M468.00,492.04 L471.20,492.04 L469.60,489.24 Z" fill="#3db54b"/>
<circle cx="496.50" cy="494.77" r="1.6" fill="#3db54b"/>
<path d="M468.00,493.11 L471.20,493.11 L469.60,490.31 Z" fill="#3db54b"/>
<circle cx="496.50" cy="503.68" r="1.6" fill="#3db54b"/>
<path d="M468.00,497.39 L471.20,497.39 L469.60,494.59 Z" fill="#3db54b"/>
<circle cx="496.50" cy="492.63" r="1.6" fill="#3db54b"/>
<path d="M468.00,498.46 L471.20,498.46 L469.60,495.66 Z" fill="#3db54b"/>
<circle cx="496.50" cy="496.55" r="1.6" fill="#3db54b"/>
<path d="M468.00,503.10 L471.20,503.10 L469.60,500.30 Z" fill="#3db54b"/>
<circle cx="496.50" cy="498.33" r="1.6" fill="#3db54b"/>
<path d="M468.00,506.66 L471.20,506.66 L469.60,503.86 Z" fill="#3db54b"/>
<circle cx="496.50" cy="509.74" r="1.6" fill="#3db54b"/>
<path d="M468.00,512.37 L471.20,512.37 L469.60,509.57 Z" fill="#3db54b"/>
<circle cx="496.50" cy="497.26" r="1.6" fill="#3db54b"/>
<path d="M468.00,495.61 L471.20,495.61 L469.60,492.81 Z" fill="#3db54b"/>
<circle cx="496.50" cy="494.41" r="1.6" fill="#3db54b"/>
<line x1="57.90" y1="569.80" x2="57.90" y2="641.50" stroke="#1a1a1a" stroke-width="1.1" />
<line x1="57.90" y1="641.50" x2="165.40" y2="641.50" stroke="#1a1a1a" stroke-width="1.1" />
<line x1="54.70" y1="641.50" x2="57.90" y2="641.50" stroke="#222" stroke-width="0.9" />
<text x="52.90" y="644.10" font-size="7.4" text-anchor="end" font-weight="normal" fill="#1a1a1a" stroke="#1a1a1a" stroke-width="0.4">0.0</text>
<line x1="54.70" y1="623.70" x2="57.90" y2="623.70" stroke="#222" stroke-width="0.9" />
<text x="52.90" y="626.30" font-size="7.4" text-anchor="end" font-weight="normal" fill="#1a1a1a" stroke="#1a1a1a" stroke-width="0.4">0.5</text>
<line x1="54.70" y1="605.90" x2="57.90" y2="605.90" stroke="#222" stroke-width="0.9" />
<text x="52.90" y="608.50" font-size="7.4" text-anchor="end" font-weight="normal" fill="#1a1a1a" stroke="#1a1a1a" stroke-width="0.4">1.0</text>
<line x1="54.70" y1="588.10" x2="57.90" y2="588.10" stroke="#222" stroke-width="0.9" />
<text x="52.90" y="590.70" font-size="7.4" text-anchor="end" font-weight="normal" fill="#1a1a1a" stroke="#1a1a1a" stroke-width="0.4">1.5</text>
<line x1="54.70" y1="570.30" x2="57.90" y2="570.30" stroke="#222" stroke-width="0.9" />
<text x="52.90" y="572.90" font-size="7.4" text-anchor="end" font-weight="normal" fill="#1a1a1a" stroke="#1a1a1a" stroke-width="0.4">2.0</text>
<line x1="71.50" y1="641.50" x2="71.50" y2="644.10" stroke="#222" stroke-width="0.9" />
<line x1="98.20" y1="641.50" x2="98.20" y2="644.10" stroke="#222" stroke-width="0.9" />
<line x1="124.90" y1="641.50" x2="124.90" y2="644.10" stroke="#222" stroke-width="0.9" />
<line x1="151.60" y1="641.50" x2="151.60" y2="644.10" stroke="#222" stroke-width="0.9" />
<path d="M68.30,648.00 V651.00 H101.40 V648.00" fill="none" stroke="#333" stroke-width="0.9"/>
<path d="M121.70,648.00 V651.00 H155.60 V648.00" fill="none" stroke="#333" stroke-width="0.9"/>
<text x="85.35" y="661.30" font-size="7.5" text-anchor="middle" font-weight="normal" fill="#1a1a1a" stroke="#1a1a1a" stroke-width="0.35" letter-spacing="0.22">+anti-IL-6 Ab</text>
<text x="139.05" y="661.30" font-size="7.5" text-anchor="middle" font-weight="normal" fill="#1a1a1a" stroke="#1a1a1a" stroke-width="0.35" letter-spacing="0.22">+IgG</text>
<line x1="70.50" y1="567.40" x2="99.70" y2="567.40" stroke="#2a2a2a" stroke-width="1.0" />
<line x1="70.50" y1="565.90" x2="70.50" y2="568.90" stroke="#2a2a2a" stroke-width="1.0" />
<line x1="99.70" y1="565.90" x2="99.70" y2="568.90" stroke="#2a2a2a" stroke-width="1.0" />
<text x="85.10" y="564.90" font-size="7.2" text-anchor="middle" font-weight="normal" fill="#1a1a1a" stroke="#1a1a1a" stroke-width="0.3">ns</text>
<line x1="122.40" y1="567.40" x2="154.60" y2="567.40" stroke="#2a2a2a" stroke-width="1.0" />
<line x1="122.40" y1="565.90" x2="122.40" y2="568.90" stroke="#2a2a2a" stroke-width="1.0" />
<line x1="154.60" y1="565.90" x2="154.60" y2="568.90" stroke="#2a2a2a" stroke-width="1.0" />
<text x="138.50" y="564.90" font-size="7.2" text-anchor="middle" font-weight="normal" fill="#1a1a1a" stroke="#1a1a1a" stroke-width="0.3">ns</text>
<line x1="101.20" y1="555.90" x2="154.60" y2="555.90" stroke="#2a2a2a" stroke-width="1.0" />
<line x1="101.20" y1="554.40" x2="101.20" y2="557.40" stroke="#2a2a2a" stroke-width="1.0" />
<line x1="154.60" y1="554.40" x2="154.60" y2="557.40" stroke="#2a2a2a" stroke-width="1.0" />
<text x="127.90" y="553.40" font-size="7.2" text-anchor="middle" font-weight="normal" fill="#1a1a1a" stroke="#1a1a1a" stroke-width="0.3">ns</text>
<text transform="translate(36.70,606.70) rotate(-90)" font-size="7.6" text-anchor="middle" fill="#1a1a1a" stroke="#1a1a1a" stroke-width="0.42" textLength="49.3" lengthAdjust="spacingAndGlyphs">Monocyte (Gpt/L)</text>
<line x1="71.50" y1="618.00" x2="98.20" y2="608.39" stroke="#1d5a97" stroke-width="0.9" />
<line x1="71.50" y1="629.04" x2="98.20" y2="620.50" stroke="#1d5a97" stroke-width="0.9" />
<line x1="71.50" y1="622.99" x2="98.20" y2="634.74" stroke="#1d5a97" stroke-width="0.9" />
<line x1="71.50" y1="624.06" x2="98.20" y2="636.16" stroke="#1d5a97" stroke-width="0.9" />
<line x1="71.50" y1="630.46" x2="98.20" y2="626.90" stroke="#1d5a97" stroke-width="0.9" />
<line x1="71.50" y1="633.67" x2="98.20" y2="630.46" stroke="#1d5a97" stroke-width="0.9" />
<line x1="71.50" y1="637.58" x2="98.20" y2="631.53" stroke="#1d5a97" stroke-width="0.9" />
<line x1="71.50" y1="637.58" x2="98.20" y2="637.23" stroke="#1d5a97" stroke-width="0.9" />
<line x1="71.50" y1="628.68" x2="98.20" y2="634.38" stroke="#1d5a97" stroke-width="0.9" />
<path d="M69.90,619.20 L73.10,619.20 L71.50,616.40 Z" fill="#1d5a97"/>
<circle cx="98.20" cy="608.39" r="1.6" fill="#1d5a97"/>
<path d="M69.90,630.24 L73.10,630.24 L71.50,627.44 Z" fill="#1d5a97"/>
<circle cx="98.20" cy="620.50" r="1.6" fill="#1d5a97"/>
<path d="M69.90,624.19 L73.10,624.19 L71.50,621.39 Z" fill="#1d5a97"/>
<circle cx="98.20" cy="634.74" r="1.6" fill="#1d5a97"/>
<path d="M69.90,625.26 L73.10,625.26 L71.50,622.46 Z" fill="#1d5a97"/>
<circle cx="98.20" cy="636.16" r="1.6" fill="#1d5a97"/>
<path d="M69.90,631.66 L73.10,631.66 L71.50,628.86 Z" fill="#1d5a97"/>
<circle cx="98.20" cy="626.90" r="1.6" fill="#1d5a97"/>
<path d="M69.90,634.87 L73.10,634.87 L71.50,632.07 Z" fill="#1d5a97"/>
<circle cx="98.20" cy="630.46" r="1.6" fill="#1d5a97"/>
<path d="M69.90,638.78 L73.10,638.78 L71.50,635.98 Z" fill="#1d5a97"/>
<circle cx="98.20" cy="631.53" r="1.6" fill="#1d5a97"/>
<path d="M69.90,638.78 L73.10,638.78 L71.50,635.98 Z" fill="#1d5a97"/>
<circle cx="98.20" cy="637.23" r="1.6" fill="#1d5a97"/>
<path d="M69.90,629.88 L73.10,629.88 L71.50,627.08 Z" fill="#1d5a97"/>
<circle cx="98.20" cy="634.38" r="1.6" fill="#1d5a97"/>
<line x1="124.90" y1="623.34" x2="151.60" y2="632.96" stroke="#3db54b" stroke-width="0.9" />
<line x1="124.90" y1="626.55" x2="151.60" y2="634.74" stroke="#3db54b" stroke-width="0.9" />
<line x1="124.90" y1="630.11" x2="151.60" y2="637.58" stroke="#3db54b" stroke-width="0.9" />
<line x1="124.90" y1="636.52" x2="151.60" y2="616.22" stroke="#3db54b" stroke-width="0.9" />
<line x1="124.90" y1="637.23" x2="151.60" y2="631.53" stroke="#3db54b" stroke-width="0.9" />
<line x1="124.90" y1="636.87" x2="151.60" y2="636.52" stroke="#3db54b" stroke-width="0.9" />
<line x1="124.90" y1="628.68" x2="151.60" y2="634.38" stroke="#3db54b" stroke-width="0.9" />
<path d="M123.30,624.54 L126.50,624.54 L124.90,621.74 Z" fill="#3db54b"/>
<circle cx="151.60" cy="632.96" r="1.6" fill="#3db54b"/>
<path d="M123.30,627.75 L126.50,627.75 L124.90,624.95 Z" fill="#3db54b"/>
<circle cx="151.60" cy="634.74" r="1.6" fill="#3db54b"/>
<path d="M123.30,631.31 L126.50,631.31 L124.90,628.51 Z" fill="#3db54b"/>
<circle cx="151.60" cy="637.58" r="1.6" fill="#3db54b"/>
<path d="M123.30,637.72 L126.50,637.72 L124.90,634.92 Z" fill="#3db54b"/>
<circle cx="151.60" cy="616.22" r="1.6" fill="#3db54b"/>
<path d="M123.30,638.43 L126.50,638.43 L124.90,635.63 Z" fill="#3db54b"/>
<circle cx="151.60" cy="631.53" r="1.6" fill="#3db54b"/>
<path d="M123.30,638.07 L126.50,638.07 L124.90,635.27 Z" fill="#3db54b"/>
<circle cx="151.60" cy="636.52" r="1.6" fill="#3db54b"/>
<path d="M123.30,629.88 L126.50,629.88 L124.90,627.08 Z" fill="#3db54b"/>
<circle cx="151.60" cy="634.38" r="1.6" fill="#3db54b"/>
<line x1="194.60" y1="573.00" x2="207.00" y2="573.00" stroke="#1d5a97" stroke-width="1.2" />
<path d="M198.70,574.50 L202.90,574.50 L200.80,570.90 Z" fill="#1d5a97"/>
<text x="214.6" y="575.8" font-size="8.1" fill="#1a1a1a" stroke="#1a1a1a" stroke-width="0.3">JAK2<tspan font-size="5.8" dy="-3.3">+/V617F</tspan><tspan dy="3.3"> + anti-IL-6 starting point</tspan></text>
<line x1="194.60" y1="589.00" x2="207.00" y2="589.00" stroke="#1d5a97" stroke-width="1.2" />
<circle cx="200.8" cy="589" r="2.0" fill="#1d5a97"/>
<text x="214.6" y="591.8" font-size="8.1" fill="#1a1a1a" stroke="#1a1a1a" stroke-width="0.3">JAK2<tspan font-size="5.8" dy="-3.3">+/V617F</tspan><tspan dy="3.3"> + anti-IL-6 end point</tspan></text>
<line x1="194.60" y1="605.00" x2="207.00" y2="605.00" stroke="#3db54b" stroke-width="1.2" />
<path d="M198.70,606.50 L202.90,606.50 L200.80,602.90 Z" fill="#3db54b"/>
<text x="214.6" y="607.8" font-size="8.1" fill="#1a1a1a" stroke="#1a1a1a" stroke-width="0.3">JAK2<tspan font-size="5.8" dy="-3.3">+/V617F</tspan><tspan dy="3.3"> + IgG starting point</tspan></text>
<line x1="194.60" y1="623.40" x2="207.00" y2="623.40" stroke="#3db54b" stroke-width="1.2" />
<circle cx="200.8" cy="623.4" r="2.0" fill="#3db54b"/>
<text x="214.6" y="626.1999999999999" font-size="8.1" fill="#1a1a1a" stroke="#1a1a1a" stroke-width="0.3">JAK2<tspan font-size="5.8" dy="-3.3">+/V617F</tspan><tspan dy="3.3"> + IgG end point</tspan></text>
</svg></body></html>
